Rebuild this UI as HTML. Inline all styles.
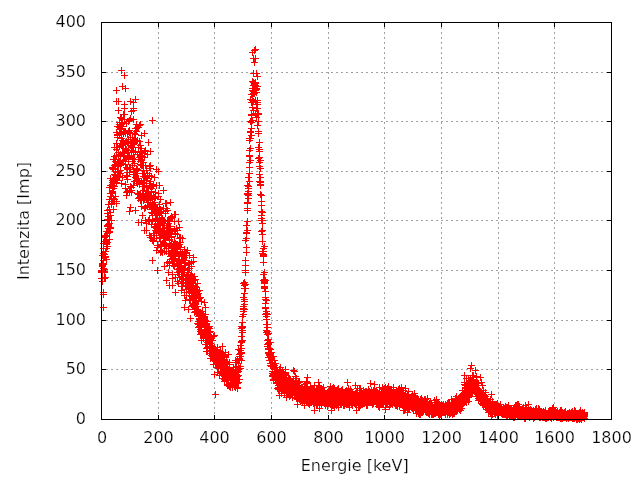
<!DOCTYPE html>
<html lang="cs"><head><meta charset="utf-8"><title>Intenzita / Energie</title>
<style>html,body{margin:0;padding:0;background:#fff;}body{width:640px;height:480px;overflow:hidden;}svg{display:block;opacity:0.999;will-change:transform;}text{font-family:"DejaVu Sans", "Liberation Sans", sans-serif;font-size:16px;fill:#000;stroke:#fff;stroke-width:0.22px;}</style></head><body>
<svg width="640" height="480" viewBox="0 0 640 480">
<rect width="640" height="480" fill="#fff"/>
<path d="M158.5 22V419M214.5 22V419M271.5 22V419M328.5 22V419M384.5 22V419M441.5 22V419M498.5 22V419M554.5 22V419" stroke="#a0a0a0" stroke-width="1" stroke-dasharray="2 3" stroke-dashoffset="0" fill="none" shape-rendering="crispEdges"/>
<path d="M101 369.5H611M101 320.5H611M101 270.5H611M101 220.5H611M101 171.5H611M101 121.5H611M101 72.5H611" stroke="#a0a0a0" stroke-width="1" stroke-dasharray="2 3" fill="none" shape-rendering="crispEdges"/>
<path d="M158.5 419v-4M158.5 23v4M214.5 419v-4M214.5 23v4M271.5 419v-4M271.5 23v4M328.5 419v-4M328.5 23v4M384.5 419v-4M384.5 23v4M441.5 419v-4M441.5 23v4M498.5 419v-4M498.5 23v4M554.5 419v-4M554.5 23v4M102 369.5h4M611 369.5h-4M102 320.5h4M611 320.5h-4M102 270.5h4M611 270.5h-4M102 220.5h4M611 220.5h-4M102 171.5h4M611 171.5h-4M102 121.5h4M611 121.5h-4M102 72.5h4M611 72.5h-4" stroke="#000" stroke-width="1" fill="none" shape-rendering="crispEdges"/>
<path d="M98 270.5h7M101.5 267v7M98 272.5h7M101.5 269v7M98 271.5h7M101.5 268v7M98 278.5h7M101.5 275v7M99 272.5h7M102.5 269v7M99 281.5h7M102.5 278v7M99 264.5h7M102.5 261v7M99 255.5h7M102.5 252v7M99 278.5h7M102.5 275v7M99 263.5h7M102.5 260v7M99 266.5h7M102.5 263v7M99 265.5h7M102.5 262v7M100 264.5h7M103.5 261v7M100 292.5h7M103.5 289v7M100 268.5h7M103.5 265v7M100 243.5h7M103.5 240v7M100 253.5h7M103.5 250v7M100 248.5h7M103.5 245v7M100 263.5h7M103.5 260v7M100 260.5h7M103.5 257v7M101 257.5h7M104.5 254v7M101 278.5h7M104.5 275v7M101 272.5h7M104.5 269v7M101 269.5h7M104.5 266v7M101 254.5h7M104.5 251v7M101 254.5h7M104.5 251v7M101 271.5h7M104.5 268v7M101 256.5h7M104.5 253v7M101 237.5h7M104.5 234v7M102 256.5h7M105.5 253v7M102 277.5h7M105.5 274v7M102 251.5h7M105.5 248v7M102 241.5h7M105.5 238v7M102 257.5h7M105.5 254v7M102 235.5h7M105.5 232v7M102 257.5h7M105.5 254v7M102 236.5h7M105.5 233v7M103 240.5h7M106.5 237v7M103 248.5h7M106.5 245v7M103 235.5h7M106.5 232v7M103 244.5h7M106.5 241v7M103 242.5h7M106.5 239v7M103 259.5h7M106.5 256v7M103 239.5h7M106.5 236v7M103 231.5h7M106.5 228v7M103 243.5h7M106.5 240v7M104 225.5h7M107.5 222v7M104 242.5h7M107.5 239v7M104 246.5h7M107.5 243v7M104 213.5h7M107.5 210v7M104 219.5h7M107.5 216v7M104 233.5h7M107.5 230v7M104 226.5h7M107.5 223v7M104 210.5h7M107.5 207v7M105 226.5h7M108.5 223v7M105 204.5h7M108.5 201v7M105 226.5h7M108.5 223v7M105 224.5h7M108.5 221v7M105 216.5h7M108.5 213v7M105 225.5h7M108.5 222v7M105 220.5h7M108.5 217v7M105 224.5h7M108.5 221v7M105 228.5h7M108.5 225v7M106 239.5h7M109.5 236v7M106 220.5h7M109.5 217v7M106 223.5h7M109.5 220v7M106 209.5h7M109.5 206v7M106 187.5h7M109.5 184v7M106 231.5h7M109.5 228v7M106 232.5h7M109.5 229v7M106 199.5h7M109.5 196v7M107 228.5h7M110.5 225v7M107 227.5h7M110.5 224v7M107 196.5h7M110.5 193v7M107 196.5h7M110.5 193v7M107 178.5h7M110.5 175v7M107 212.5h7M110.5 209v7M107 193.5h7M110.5 190v7M107 215.5h7M110.5 212v7M107 185.5h7M110.5 182v7M108 220.5h7M111.5 217v7M108 204.5h7M111.5 201v7M108 204.5h7M111.5 201v7M108 201.5h7M111.5 198v7M108 185.5h7M111.5 182v7M108 193.5h7M111.5 190v7M108 199.5h7M111.5 196v7M108 203.5h7M111.5 200v7M109 167.5h7M112.5 164v7M109 192.5h7M112.5 189v7M109 191.5h7M112.5 188v7M109 168.5h7M112.5 165v7M109 180.5h7M112.5 177v7M109 167.5h7M112.5 164v7M109 182.5h7M112.5 179v7M109 191.5h7M112.5 188v7M109 201.5h7M112.5 198v7M110 185.5h7M113.5 182v7M110 201.5h7M113.5 198v7M110 209.5h7M113.5 206v7M110 159.5h7M113.5 156v7M110 188.5h7M113.5 185v7M110 179.5h7M113.5 176v7M110 169.5h7M113.5 166v7M110 198.5h7M113.5 195v7M111 199.5h7M114.5 196v7M111 159.5h7M114.5 156v7M111 181.5h7M114.5 178v7M111 174.5h7M114.5 171v7M111 179.5h7M114.5 176v7M111 156.5h7M114.5 153v7M111 165.5h7M114.5 162v7M111 186.5h7M114.5 183v7M111 147.5h7M114.5 144v7M112 164.5h7M115.5 161v7M112 175.5h7M115.5 172v7M112 161.5h7M115.5 158v7M112 196.5h7M115.5 193v7M112 159.5h7M115.5 156v7M112 177.5h7M115.5 174v7M112 168.5h7M115.5 165v7M112 180.5h7M115.5 177v7M113 149.5h7M116.5 146v7M113 177.5h7M116.5 174v7M113 203.5h7M116.5 200v7M113 155.5h7M116.5 152v7M113 201.5h7M116.5 198v7M113 143.5h7M116.5 140v7M113 182.5h7M116.5 179v7M113 132.5h7M116.5 129v7M113 180.5h7M116.5 177v7M114 135.5h7M117.5 132v7M114 126.5h7M117.5 123v7M114 180.5h7M117.5 177v7M114 134.5h7M117.5 131v7M114 137.5h7M117.5 134v7M114 147.5h7M117.5 144v7M114 166.5h7M117.5 163v7M114 163.5h7M117.5 160v7M115 177.5h7M118.5 174v7M115 163.5h7M118.5 160v7M115 155.5h7M118.5 152v7M115 163.5h7M118.5 160v7M115 171.5h7M118.5 168v7M115 172.5h7M118.5 169v7M115 164.5h7M118.5 161v7M115 110.5h7M118.5 107v7M115 152.5h7M118.5 149v7M116 127.5h7M119.5 124v7M116 134.5h7M119.5 131v7M116 176.5h7M119.5 173v7M116 162.5h7M119.5 159v7M116 161.5h7M119.5 158v7M116 122.5h7M119.5 119v7M116 124.5h7M119.5 121v7M116 146.5h7M119.5 143v7M117 156.5h7M120.5 153v7M117 154.5h7M120.5 151v7M117 117.5h7M120.5 114v7M117 165.5h7M120.5 162v7M117 173.5h7M120.5 170v7M117 125.5h7M120.5 122v7M117 129.5h7M120.5 126v7M117 170.5h7M120.5 167v7M117 129.5h7M120.5 126v7M118 124.5h7M121.5 121v7M118 183.5h7M121.5 180v7M118 138.5h7M121.5 135v7M118 145.5h7M121.5 142v7M118 128.5h7M121.5 125v7M118 133.5h7M121.5 130v7M118 118.5h7M121.5 115v7M118 163.5h7M121.5 160v7M119 153.5h7M122.5 150v7M119 177.5h7M122.5 174v7M119 143.5h7M122.5 140v7M119 126.5h7M122.5 123v7M119 152.5h7M122.5 149v7M119 140.5h7M122.5 137v7M119 122.5h7M122.5 119v7M119 144.5h7M122.5 141v7M120 160.5h7M123.5 157v7M120 161.5h7M123.5 158v7M120 144.5h7M123.5 141v7M120 142.5h7M123.5 139v7M120 132.5h7M123.5 129v7M120 133.5h7M123.5 130v7M120 114.5h7M123.5 111v7M120 152.5h7M123.5 149v7M120 141.5h7M123.5 138v7M121 153.5h7M124.5 150v7M121 108.5h7M124.5 105v7M121 104.5h7M124.5 101v7M121 155.5h7M124.5 152v7M121 131.5h7M124.5 128v7M121 114.5h7M124.5 111v7M121 153.5h7M124.5 150v7M121 119.5h7M124.5 116v7M122 188.5h7M125.5 185v7M122 131.5h7M125.5 128v7M122 184.5h7M125.5 181v7M122 148.5h7M125.5 145v7M122 164.5h7M125.5 161v7M122 133.5h7M125.5 130v7M122 88.5h7M125.5 85v7M122 142.5h7M125.5 139v7M122 159.5h7M125.5 156v7M123 175.5h7M126.5 172v7M123 123.5h7M126.5 120v7M123 192.5h7M126.5 189v7M123 141.5h7M126.5 138v7M123 167.5h7M126.5 164v7M123 195.5h7M126.5 192v7M123 192.5h7M126.5 189v7M123 149.5h7M126.5 146v7M124 152.5h7M127.5 149v7M124 172.5h7M127.5 169v7M124 133.5h7M127.5 130v7M124 142.5h7M127.5 139v7M124 179.5h7M127.5 176v7M124 169.5h7M127.5 166v7M124 176.5h7M127.5 173v7M124 191.5h7M127.5 188v7M124 168.5h7M127.5 165v7M125 131.5h7M128.5 128v7M125 139.5h7M128.5 136v7M125 161.5h7M128.5 158v7M125 121.5h7M128.5 118v7M125 150.5h7M128.5 147v7M125 158.5h7M128.5 155v7M125 143.5h7M128.5 140v7M125 157.5h7M128.5 154v7M126 155.5h7M129.5 152v7M126 156.5h7M129.5 153v7M126 120.5h7M129.5 117v7M126 211.5h7M129.5 208v7M126 130.5h7M129.5 127v7M126 172.5h7M129.5 169v7M126 132.5h7M129.5 129v7M126 191.5h7M129.5 188v7M126 167.5h7M129.5 164v7M127 145.5h7M130.5 142v7M127 169.5h7M130.5 166v7M127 169.5h7M130.5 166v7M127 186.5h7M130.5 183v7M127 118.5h7M130.5 115v7M127 137.5h7M130.5 134v7M127 207.5h7M130.5 204v7M127 167.5h7M130.5 164v7M128 190.5h7M131.5 187v7M128 187.5h7M131.5 184v7M128 150.5h7M131.5 147v7M128 142.5h7M131.5 139v7M128 155.5h7M131.5 152v7M128 192.5h7M131.5 189v7M128 147.5h7M131.5 144v7M128 111.5h7M131.5 108v7M128 146.5h7M131.5 143v7M129 161.5h7M132.5 158v7M129 158.5h7M132.5 155v7M129 142.5h7M132.5 139v7M129 147.5h7M132.5 144v7M129 159.5h7M132.5 156v7M129 137.5h7M132.5 134v7M129 165.5h7M132.5 162v7M129 139.5h7M132.5 136v7M130 141.5h7M133.5 138v7M130 119.5h7M133.5 116v7M130 185.5h7M133.5 182v7M130 174.5h7M133.5 171v7M130 151.5h7M133.5 148v7M130 152.5h7M133.5 149v7M130 108.5h7M133.5 105v7M130 110.5h7M133.5 107v7M130 159.5h7M133.5 156v7M131 174.5h7M134.5 171v7M131 139.5h7M134.5 136v7M131 181.5h7M134.5 178v7M131 171.5h7M134.5 168v7M131 163.5h7M134.5 160v7M131 143.5h7M134.5 140v7M131 159.5h7M134.5 156v7M131 133.5h7M134.5 130v7M132 134.5h7M135.5 131v7M132 141.5h7M135.5 138v7M132 151.5h7M135.5 148v7M132 151.5h7M135.5 148v7M132 128.5h7M135.5 125v7M132 171.5h7M135.5 168v7M132 177.5h7M135.5 174v7M132 210.5h7M135.5 207v7M132 99.5h7M135.5 96v7M133 131.5h7M136.5 128v7M133 180.5h7M136.5 177v7M133 141.5h7M136.5 138v7M133 124.5h7M136.5 121v7M133 170.5h7M136.5 167v7M133 173.5h7M136.5 170v7M133 178.5h7M136.5 175v7M133 168.5h7M136.5 165v7M134 140.5h7M137.5 137v7M134 173.5h7M137.5 170v7M134 140.5h7M137.5 137v7M134 183.5h7M137.5 180v7M134 154.5h7M137.5 151v7M134 127.5h7M137.5 124v7M134 169.5h7M137.5 166v7M134 193.5h7M137.5 190v7M134 180.5h7M137.5 177v7M135 198.5h7M138.5 195v7M135 159.5h7M138.5 156v7M135 159.5h7M138.5 156v7M135 194.5h7M138.5 191v7M135 147.5h7M138.5 144v7M135 178.5h7M138.5 175v7M135 127.5h7M138.5 124v7M135 222.5h7M138.5 219v7M136 194.5h7M139.5 191v7M136 182.5h7M139.5 179v7M136 141.5h7M139.5 138v7M136 184.5h7M139.5 181v7M136 157.5h7M139.5 154v7M136 125.5h7M139.5 122v7M136 184.5h7M139.5 181v7M136 197.5h7M139.5 194v7M136 154.5h7M139.5 151v7M137 145.5h7M140.5 142v7M137 195.5h7M140.5 192v7M137 161.5h7M140.5 158v7M137 124.5h7M140.5 121v7M137 194.5h7M140.5 191v7M137 152.5h7M140.5 149v7M137 200.5h7M140.5 197v7M137 164.5h7M140.5 161v7M138 206.5h7M141.5 203v7M138 222.5h7M141.5 219v7M138 165.5h7M141.5 162v7M138 181.5h7M141.5 178v7M138 160.5h7M141.5 157v7M138 135.5h7M141.5 132v7M138 200.5h7M141.5 197v7M138 155.5h7M141.5 152v7M138 148.5h7M141.5 145v7M139 173.5h7M142.5 170v7M139 186.5h7M142.5 183v7M139 194.5h7M142.5 191v7M139 165.5h7M142.5 162v7M139 193.5h7M142.5 190v7M139 156.5h7M142.5 153v7M139 215.5h7M142.5 212v7M139 196.5h7M142.5 193v7M140 162.5h7M143.5 159v7M140 183.5h7M143.5 180v7M140 190.5h7M143.5 187v7M140 200.5h7M143.5 197v7M140 176.5h7M143.5 173v7M140 182.5h7M143.5 179v7M140 170.5h7M143.5 167v7M140 165.5h7M143.5 162v7M141 173.5h7M144.5 170v7M141 199.5h7M144.5 196v7M141 153.5h7M144.5 150v7M141 151.5h7M144.5 148v7M141 157.5h7M144.5 154v7M141 230.5h7M144.5 227v7M141 180.5h7M144.5 177v7M141 208.5h7M144.5 205v7M141 186.5h7M144.5 183v7M142 193.5h7M145.5 190v7M142 150.5h7M145.5 147v7M142 207.5h7M145.5 204v7M142 197.5h7M145.5 194v7M142 220.5h7M145.5 217v7M142 177.5h7M145.5 174v7M142 165.5h7M145.5 162v7M142 165.5h7M145.5 162v7M143 195.5h7M146.5 192v7M143 199.5h7M146.5 196v7M143 187.5h7M146.5 184v7M143 180.5h7M146.5 177v7M143 170.5h7M146.5 167v7M143 223.5h7M146.5 220v7M143 185.5h7M146.5 182v7M143 230.5h7M146.5 227v7M143 170.5h7M146.5 167v7M144 200.5h7M147.5 197v7M144 178.5h7M147.5 175v7M144 191.5h7M147.5 188v7M144 154.5h7M147.5 151v7M144 173.5h7M147.5 170v7M144 206.5h7M147.5 203v7M144 193.5h7M147.5 190v7M144 205.5h7M147.5 202v7M145 196.5h7M148.5 193v7M145 196.5h7M148.5 193v7M145 194.5h7M148.5 191v7M145 192.5h7M148.5 189v7M145 202.5h7M148.5 199v7M145 220.5h7M148.5 217v7M145 192.5h7M148.5 189v7M145 194.5h7M148.5 191v7M145 197.5h7M148.5 194v7M146 235.5h7M149.5 232v7M146 195.5h7M149.5 192v7M146 183.5h7M149.5 180v7M146 221.5h7M149.5 218v7M146 205.5h7M149.5 202v7M146 166.5h7M149.5 163v7M146 175.5h7M149.5 172v7M146 219.5h7M149.5 216v7M147 181.5h7M150.5 178v7M147 186.5h7M150.5 183v7M147 165.5h7M150.5 162v7M147 186.5h7M150.5 183v7M147 205.5h7M150.5 202v7M147 199.5h7M150.5 196v7M147 151.5h7M150.5 148v7M147 237.5h7M150.5 234v7M147 168.5h7M150.5 165v7M148 191.5h7M151.5 188v7M148 209.5h7M151.5 206v7M148 237.5h7M151.5 234v7M148 212.5h7M151.5 209v7M148 176.5h7M151.5 173v7M148 224.5h7M151.5 221v7M148 188.5h7M151.5 185v7M148 197.5h7M151.5 194v7M149 240.5h7M152.5 237v7M149 213.5h7M152.5 210v7M149 215.5h7M152.5 212v7M149 186.5h7M152.5 183v7M149 221.5h7M152.5 218v7M149 206.5h7M152.5 203v7M149 219.5h7M152.5 216v7M149 220.5h7M152.5 217v7M149 203.5h7M152.5 200v7M150 196.5h7M153.5 193v7M150 185.5h7M153.5 182v7M150 233.5h7M153.5 230v7M150 238.5h7M153.5 235v7M150 209.5h7M153.5 206v7M150 204.5h7M153.5 201v7M150 184.5h7M153.5 181v7M150 241.5h7M153.5 238v7M151 212.5h7M154.5 209v7M151 235.5h7M154.5 232v7M151 197.5h7M154.5 194v7M151 202.5h7M154.5 199v7M151 226.5h7M154.5 223v7M151 238.5h7M154.5 235v7M151 198.5h7M154.5 195v7M151 177.5h7M154.5 174v7M151 205.5h7M154.5 202v7M152 192.5h7M155.5 189v7M152 197.5h7M155.5 194v7M152 218.5h7M155.5 215v7M152 224.5h7M155.5 221v7M152 230.5h7M155.5 227v7M152 211.5h7M155.5 208v7M152 230.5h7M155.5 227v7M152 227.5h7M155.5 224v7M153 231.5h7M156.5 228v7M153 215.5h7M156.5 212v7M153 208.5h7M156.5 205v7M153 169.5h7M156.5 166v7M153 228.5h7M156.5 225v7M153 238.5h7M156.5 235v7M153 215.5h7M156.5 212v7M153 250.5h7M156.5 247v7M153 185.5h7M156.5 182v7M154 245.5h7M157.5 242v7M154 207.5h7M157.5 204v7M154 213.5h7M157.5 210v7M154 219.5h7M157.5 216v7M154 220.5h7M157.5 217v7M154 215.5h7M157.5 212v7M154 230.5h7M157.5 227v7M154 247.5h7M157.5 244v7M155 193.5h7M158.5 190v7M155 211.5h7M158.5 208v7M155 196.5h7M158.5 193v7M155 225.5h7M158.5 222v7M155 229.5h7M158.5 226v7M155 221.5h7M158.5 218v7M155 171.5h7M158.5 168v7M155 231.5h7M158.5 228v7M155 224.5h7M158.5 221v7M156 223.5h7M159.5 220v7M156 225.5h7M159.5 222v7M156 215.5h7M159.5 212v7M156 185.5h7M159.5 182v7M156 235.5h7M159.5 232v7M156 237.5h7M159.5 234v7M156 204.5h7M159.5 201v7M156 207.5h7M159.5 204v7M157 230.5h7M160.5 227v7M157 199.5h7M160.5 196v7M157 220.5h7M160.5 217v7M157 209.5h7M160.5 206v7M157 252.5h7M160.5 249v7M157 224.5h7M160.5 221v7M157 246.5h7M160.5 243v7M157 241.5h7M160.5 238v7M157 212.5h7M160.5 209v7M158 211.5h7M161.5 208v7M158 218.5h7M161.5 215v7M158 244.5h7M161.5 241v7M158 250.5h7M161.5 247v7M158 234.5h7M161.5 231v7M158 221.5h7M161.5 218v7M158 222.5h7M161.5 219v7M158 251.5h7M161.5 248v7M159 230.5h7M162.5 227v7M159 228.5h7M162.5 225v7M159 222.5h7M162.5 219v7M159 219.5h7M162.5 216v7M159 219.5h7M162.5 216v7M159 252.5h7M162.5 249v7M159 221.5h7M162.5 218v7M159 220.5h7M162.5 217v7M160 236.5h7M163.5 233v7M160 234.5h7M163.5 231v7M160 208.5h7M163.5 205v7M160 225.5h7M163.5 222v7M160 190.5h7M163.5 187v7M160 220.5h7M163.5 217v7M160 208.5h7M163.5 205v7M160 242.5h7M163.5 239v7M160 231.5h7M163.5 228v7M161 220.5h7M164.5 217v7M161 220.5h7M164.5 217v7M161 251.5h7M164.5 248v7M161 232.5h7M164.5 229v7M161 245.5h7M164.5 242v7M161 266.5h7M164.5 263v7M161 223.5h7M164.5 220v7M161 238.5h7M164.5 235v7M162 236.5h7M165.5 233v7M162 243.5h7M165.5 240v7M162 245.5h7M165.5 242v7M162 213.5h7M165.5 210v7M162 211.5h7M165.5 208v7M162 213.5h7M165.5 210v7M162 240.5h7M165.5 237v7M162 203.5h7M165.5 200v7M162 238.5h7M165.5 235v7M163 228.5h7M166.5 225v7M163 232.5h7M166.5 229v7M163 234.5h7M166.5 231v7M163 248.5h7M166.5 245v7M163 203.5h7M166.5 200v7M163 227.5h7M166.5 224v7M163 208.5h7M166.5 205v7M163 251.5h7M166.5 248v7M164 235.5h7M167.5 232v7M164 262.5h7M167.5 259v7M164 233.5h7M167.5 230v7M164 228.5h7M167.5 225v7M164 220.5h7M167.5 217v7M164 210.5h7M167.5 207v7M164 225.5h7M167.5 222v7M164 230.5h7M167.5 227v7M164 228.5h7M167.5 225v7M165 221.5h7M168.5 218v7M165 220.5h7M168.5 217v7M165 272.5h7M168.5 269v7M165 220.5h7M168.5 217v7M165 228.5h7M168.5 225v7M165 246.5h7M168.5 243v7M165 223.5h7M168.5 220v7M165 253.5h7M168.5 250v7M166 240.5h7M169.5 237v7M166 226.5h7M169.5 223v7M166 265.5h7M169.5 262v7M166 220.5h7M169.5 217v7M166 244.5h7M169.5 241v7M166 263.5h7M169.5 260v7M166 261.5h7M169.5 258v7M166 239.5h7M169.5 236v7M166 253.5h7M169.5 250v7M167 253.5h7M170.5 250v7M167 226.5h7M170.5 223v7M167 218.5h7M170.5 215v7M167 230.5h7M170.5 227v7M167 245.5h7M170.5 242v7M167 256.5h7M170.5 253v7M167 256.5h7M170.5 253v7M167 202.5h7M170.5 199v7M168 245.5h7M171.5 242v7M168 259.5h7M171.5 256v7M168 234.5h7M171.5 231v7M168 250.5h7M171.5 247v7M168 236.5h7M171.5 233v7M168 244.5h7M171.5 241v7M168 231.5h7M171.5 228v7M168 216.5h7M171.5 213v7M168 237.5h7M171.5 234v7M169 259.5h7M172.5 256v7M169 251.5h7M172.5 248v7M169 274.5h7M172.5 271v7M169 285.5h7M172.5 282v7M169 217.5h7M172.5 214v7M169 261.5h7M172.5 258v7M169 231.5h7M172.5 228v7M169 278.5h7M172.5 275v7M170 251.5h7M173.5 248v7M170 265.5h7M173.5 262v7M170 251.5h7M173.5 248v7M170 254.5h7M173.5 251v7M170 261.5h7M173.5 258v7M170 244.5h7M173.5 241v7M170 247.5h7M173.5 244v7M170 254.5h7M173.5 251v7M170 253.5h7M173.5 250v7M171 229.5h7M174.5 226v7M171 266.5h7M174.5 263v7M171 259.5h7M174.5 256v7M171 221.5h7M174.5 218v7M171 241.5h7M174.5 238v7M171 249.5h7M174.5 246v7M171 214.5h7M174.5 211v7M171 255.5h7M174.5 252v7M172 249.5h7M175.5 246v7M172 214.5h7M175.5 211v7M172 246.5h7M175.5 243v7M172 277.5h7M175.5 274v7M172 256.5h7M175.5 253v7M172 233.5h7M175.5 230v7M172 252.5h7M175.5 249v7M172 243.5h7M175.5 240v7M172 253.5h7M175.5 250v7M173 247.5h7M176.5 244v7M173 253.5h7M176.5 250v7M173 228.5h7M176.5 225v7M173 251.5h7M176.5 248v7M173 248.5h7M176.5 245v7M173 261.5h7M176.5 258v7M173 245.5h7M176.5 242v7M173 245.5h7M176.5 242v7M174 281.5h7M177.5 278v7M174 247.5h7M177.5 244v7M174 234.5h7M177.5 231v7M174 253.5h7M177.5 250v7M174 272.5h7M177.5 269v7M174 261.5h7M177.5 258v7M174 263.5h7M177.5 260v7M174 264.5h7M177.5 261v7M174 230.5h7M177.5 227v7M175 245.5h7M178.5 242v7M175 274.5h7M178.5 271v7M175 221.5h7M178.5 218v7M175 246.5h7M178.5 243v7M175 260.5h7M178.5 257v7M175 269.5h7M178.5 266v7M175 283.5h7M178.5 280v7M175 254.5h7M178.5 251v7M176 238.5h7M179.5 235v7M176 263.5h7M179.5 260v7M176 256.5h7M179.5 253v7M176 268.5h7M179.5 265v7M176 261.5h7M179.5 258v7M176 277.5h7M179.5 274v7M176 271.5h7M179.5 268v7M176 227.5h7M179.5 224v7M176 244.5h7M179.5 241v7M177 237.5h7M180.5 234v7M177 242.5h7M180.5 239v7M177 249.5h7M180.5 246v7M177 253.5h7M180.5 250v7M177 247.5h7M180.5 244v7M177 265.5h7M180.5 262v7M177 267.5h7M180.5 264v7M177 252.5h7M180.5 249v7M178 270.5h7M181.5 267v7M178 260.5h7M181.5 257v7M178 290.5h7M181.5 287v7M178 276.5h7M181.5 273v7M178 263.5h7M181.5 260v7M178 263.5h7M181.5 260v7M178 283.5h7M181.5 280v7M178 262.5h7M181.5 259v7M179 279.5h7M182.5 276v7M179 253.5h7M182.5 250v7M179 286.5h7M182.5 283v7M179 256.5h7M182.5 253v7M179 268.5h7M182.5 265v7M179 238.5h7M182.5 235v7M179 278.5h7M182.5 275v7M179 268.5h7M182.5 265v7M179 270.5h7M182.5 267v7M180 259.5h7M183.5 256v7M180 282.5h7M183.5 279v7M180 278.5h7M183.5 275v7M180 274.5h7M183.5 271v7M180 272.5h7M183.5 269v7M180 255.5h7M183.5 252v7M180 259.5h7M183.5 256v7M180 268.5h7M183.5 265v7M181 251.5h7M184.5 248v7M181 257.5h7M184.5 254v7M181 295.5h7M184.5 292v7M181 262.5h7M184.5 259v7M181 272.5h7M184.5 269v7M181 249.5h7M184.5 246v7M181 269.5h7M184.5 266v7M181 292.5h7M184.5 289v7M181 251.5h7M184.5 248v7M182 252.5h7M185.5 249v7M182 280.5h7M185.5 277v7M182 255.5h7M185.5 252v7M182 300.5h7M185.5 297v7M182 253.5h7M185.5 250v7M182 278.5h7M185.5 275v7M182 265.5h7M185.5 262v7M182 260.5h7M185.5 257v7M183 278.5h7M186.5 275v7M183 283.5h7M186.5 280v7M183 275.5h7M186.5 272v7M183 289.5h7M186.5 286v7M183 295.5h7M186.5 292v7M183 292.5h7M186.5 289v7M183 279.5h7M186.5 276v7M183 286.5h7M186.5 283v7M183 255.5h7M186.5 252v7M184 278.5h7M187.5 275v7M184 250.5h7M187.5 247v7M184 250.5h7M187.5 247v7M184 270.5h7M187.5 267v7M184 285.5h7M187.5 282v7M184 286.5h7M187.5 283v7M184 282.5h7M187.5 279v7M184 272.5h7M187.5 269v7M185 272.5h7M188.5 269v7M185 288.5h7M188.5 285v7M185 309.5h7M188.5 306v7M185 284.5h7M188.5 281v7M185 279.5h7M188.5 276v7M185 281.5h7M188.5 278v7M185 281.5h7M188.5 278v7M185 264.5h7M188.5 261v7M185 287.5h7M188.5 284v7M186 268.5h7M189.5 265v7M186 299.5h7M189.5 296v7M186 283.5h7M189.5 280v7M186 277.5h7M189.5 274v7M186 255.5h7M189.5 252v7M186 263.5h7M189.5 260v7M186 281.5h7M189.5 278v7M186 291.5h7M189.5 288v7M187 275.5h7M190.5 272v7M187 278.5h7M190.5 275v7M187 285.5h7M190.5 282v7M187 282.5h7M190.5 279v7M187 277.5h7M190.5 274v7M187 287.5h7M190.5 284v7M187 299.5h7M190.5 296v7M187 318.5h7M190.5 315v7M187 300.5h7M190.5 297v7M188 262.5h7M191.5 259v7M188 283.5h7M191.5 280v7M188 277.5h7M191.5 274v7M188 286.5h7M191.5 283v7M188 274.5h7M191.5 271v7M188 293.5h7M191.5 290v7M188 296.5h7M191.5 293v7M188 266.5h7M191.5 263v7M189 276.5h7M192.5 273v7M189 286.5h7M192.5 283v7M189 291.5h7M192.5 288v7M189 305.5h7M192.5 302v7M189 282.5h7M192.5 279v7M189 303.5h7M192.5 300v7M189 292.5h7M192.5 289v7M189 306.5h7M192.5 303v7M189 300.5h7M192.5 297v7M190 306.5h7M193.5 303v7M190 283.5h7M193.5 280v7M190 261.5h7M193.5 258v7M190 257.5h7M193.5 254v7M190 304.5h7M193.5 301v7M190 295.5h7M193.5 292v7M190 285.5h7M193.5 282v7M190 297.5h7M193.5 294v7M191 300.5h7M194.5 297v7M191 307.5h7M194.5 304v7M191 305.5h7M194.5 302v7M191 296.5h7M194.5 293v7M191 312.5h7M194.5 309v7M191 289.5h7M194.5 286v7M191 279.5h7M194.5 276v7M191 276.5h7M194.5 273v7M191 280.5h7M194.5 277v7M192 292.5h7M195.5 289v7M192 286.5h7M195.5 283v7M192 293.5h7M195.5 290v7M192 303.5h7M195.5 300v7M192 296.5h7M195.5 293v7M192 279.5h7M195.5 276v7M192 311.5h7M195.5 308v7M192 302.5h7M195.5 299v7M193 287.5h7M196.5 284v7M193 295.5h7M196.5 292v7M193 296.5h7M196.5 293v7M193 309.5h7M196.5 306v7M193 292.5h7M196.5 289v7M193 309.5h7M196.5 306v7M193 289.5h7M196.5 286v7M193 289.5h7M196.5 286v7M193 290.5h7M196.5 287v7M194 283.5h7M197.5 280v7M194 323.5h7M197.5 320v7M194 295.5h7M197.5 292v7M194 306.5h7M197.5 303v7M194 310.5h7M197.5 307v7M194 310.5h7M197.5 307v7M194 283.5h7M197.5 280v7M194 291.5h7M197.5 288v7M195 310.5h7M198.5 307v7M195 321.5h7M198.5 318v7M195 327.5h7M198.5 324v7M195 314.5h7M198.5 311v7M195 293.5h7M198.5 290v7M195 324.5h7M198.5 321v7M195 312.5h7M198.5 309v7M195 316.5h7M198.5 313v7M195 301.5h7M198.5 298v7M196 318.5h7M199.5 315v7M196 315.5h7M199.5 312v7M196 290.5h7M199.5 287v7M196 298.5h7M199.5 295v7M196 313.5h7M199.5 310v7M196 319.5h7M199.5 316v7M196 297.5h7M199.5 294v7M196 326.5h7M199.5 323v7M197 297.5h7M200.5 294v7M197 329.5h7M200.5 326v7M197 319.5h7M200.5 316v7M197 334.5h7M200.5 331v7M197 322.5h7M200.5 319v7M197 331.5h7M200.5 328v7M197 316.5h7M200.5 313v7M197 312.5h7M200.5 309v7M198 313.5h7M201.5 310v7M198 330.5h7M201.5 327v7M198 319.5h7M201.5 316v7M198 332.5h7M201.5 329v7M198 301.5h7M201.5 298v7M198 332.5h7M201.5 329v7M198 340.5h7M201.5 337v7M198 321.5h7M201.5 318v7M198 333.5h7M201.5 330v7M199 314.5h7M202.5 311v7M199 318.5h7M202.5 315v7M199 333.5h7M202.5 330v7M199 311.5h7M202.5 308v7M199 324.5h7M202.5 321v7M199 321.5h7M202.5 318v7M199 315.5h7M202.5 312v7M199 333.5h7M202.5 330v7M200 338.5h7M203.5 335v7M200 314.5h7M203.5 311v7M200 333.5h7M203.5 330v7M200 321.5h7M203.5 318v7M200 322.5h7M203.5 319v7M200 323.5h7M203.5 320v7M200 322.5h7M203.5 319v7M200 324.5h7M203.5 321v7M200 337.5h7M203.5 334v7M201 326.5h7M204.5 323v7M201 316.5h7M204.5 313v7M201 302.5h7M204.5 299v7M201 317.5h7M204.5 314v7M201 334.5h7M204.5 331v7M201 325.5h7M204.5 322v7M201 330.5h7M204.5 327v7M201 332.5h7M204.5 329v7M202 323.5h7M205.5 320v7M202 307.5h7M205.5 304v7M202 332.5h7M205.5 329v7M202 314.5h7M205.5 311v7M202 331.5h7M205.5 328v7M202 320.5h7M205.5 317v7M202 344.5h7M205.5 341v7M202 344.5h7M205.5 341v7M202 337.5h7M205.5 334v7M203 337.5h7M206.5 334v7M203 340.5h7M206.5 337v7M203 327.5h7M206.5 324v7M203 329.5h7M206.5 326v7M203 348.5h7M206.5 345v7M203 321.5h7M206.5 318v7M203 344.5h7M206.5 341v7M203 351.5h7M206.5 348v7M204 340.5h7M207.5 337v7M204 351.5h7M207.5 348v7M204 329.5h7M207.5 326v7M204 335.5h7M207.5 332v7M204 342.5h7M207.5 339v7M204 335.5h7M207.5 332v7M204 347.5h7M207.5 344v7M204 321.5h7M207.5 318v7M204 329.5h7M207.5 326v7M205 326.5h7M208.5 323v7M205 334.5h7M208.5 331v7M205 327.5h7M208.5 324v7M205 328.5h7M208.5 325v7M205 332.5h7M208.5 329v7M205 335.5h7M208.5 332v7M205 332.5h7M208.5 329v7M205 340.5h7M208.5 337v7M206 350.5h7M209.5 347v7M206 326.5h7M209.5 323v7M206 332.5h7M209.5 329v7M206 335.5h7M209.5 332v7M206 339.5h7M209.5 336v7M206 344.5h7M209.5 341v7M206 339.5h7M209.5 336v7M206 328.5h7M209.5 325v7M206 353.5h7M209.5 350v7M207 351.5h7M210.5 348v7M207 343.5h7M210.5 340v7M207 337.5h7M210.5 334v7M207 340.5h7M210.5 337v7M207 358.5h7M210.5 355v7M207 350.5h7M210.5 347v7M207 331.5h7M210.5 328v7M207 335.5h7M210.5 332v7M208 350.5h7M211.5 347v7M208 353.5h7M211.5 350v7M208 347.5h7M211.5 344v7M208 346.5h7M211.5 343v7M208 340.5h7M211.5 337v7M208 348.5h7M211.5 345v7M208 348.5h7M211.5 345v7M208 355.5h7M211.5 352v7M208 346.5h7M211.5 343v7M209 340.5h7M212.5 337v7M209 347.5h7M212.5 344v7M209 347.5h7M212.5 344v7M209 356.5h7M212.5 353v7M209 347.5h7M212.5 344v7M209 346.5h7M212.5 343v7M209 355.5h7M212.5 352v7M209 353.5h7M212.5 350v7M210 356.5h7M213.5 353v7M210 360.5h7M213.5 357v7M210 351.5h7M213.5 348v7M210 336.5h7M213.5 333v7M210 352.5h7M213.5 349v7M210 364.5h7M213.5 361v7M210 349.5h7M213.5 346v7M210 348.5h7M213.5 345v7M210 359.5h7M213.5 356v7M211 349.5h7M214.5 346v7M211 359.5h7M214.5 356v7M211 347.5h7M214.5 344v7M211 357.5h7M214.5 354v7M211 374.5h7M214.5 371v7M211 354.5h7M214.5 351v7M211 353.5h7M214.5 350v7M211 335.5h7M214.5 332v7M212 361.5h7M215.5 358v7M212 355.5h7M215.5 352v7M212 359.5h7M215.5 356v7M212 358.5h7M215.5 355v7M212 351.5h7M215.5 348v7M212 356.5h7M215.5 353v7M212 358.5h7M215.5 355v7M212 349.5h7M215.5 346v7M212 353.5h7M215.5 350v7M213 356.5h7M216.5 353v7M213 357.5h7M216.5 354v7M213 359.5h7M216.5 356v7M213 351.5h7M216.5 348v7M213 353.5h7M216.5 350v7M213 356.5h7M216.5 353v7M213 353.5h7M216.5 350v7M213 355.5h7M216.5 352v7M214 372.5h7M217.5 369v7M214 347.5h7M217.5 344v7M214 355.5h7M217.5 352v7M214 355.5h7M217.5 352v7M214 352.5h7M217.5 349v7M214 363.5h7M217.5 360v7M214 367.5h7M217.5 364v7M214 367.5h7M217.5 364v7M214 360.5h7M217.5 357v7M215 359.5h7M218.5 356v7M215 368.5h7M218.5 365v7M215 366.5h7M218.5 363v7M215 353.5h7M218.5 350v7M215 353.5h7M218.5 350v7M215 360.5h7M218.5 357v7M215 364.5h7M218.5 361v7M215 365.5h7M218.5 362v7M216 357.5h7M219.5 354v7M216 375.5h7M219.5 372v7M216 365.5h7M219.5 362v7M216 357.5h7M219.5 354v7M216 357.5h7M219.5 354v7M216 352.5h7M219.5 349v7M216 365.5h7M219.5 362v7M216 362.5h7M219.5 359v7M216 362.5h7M219.5 359v7M217 359.5h7M220.5 356v7M217 351.5h7M220.5 348v7M217 351.5h7M220.5 348v7M217 367.5h7M220.5 364v7M217 361.5h7M220.5 358v7M217 351.5h7M220.5 348v7M217 358.5h7M220.5 355v7M217 371.5h7M220.5 368v7M218 364.5h7M221.5 361v7M218 368.5h7M221.5 365v7M218 356.5h7M221.5 353v7M218 364.5h7M221.5 361v7M218 353.5h7M221.5 350v7M218 360.5h7M221.5 357v7M218 366.5h7M221.5 363v7M218 373.5h7M221.5 370v7M219 378.5h7M222.5 375v7M219 363.5h7M222.5 360v7M219 365.5h7M222.5 362v7M219 372.5h7M222.5 369v7M219 346.5h7M222.5 343v7M219 363.5h7M222.5 360v7M219 363.5h7M222.5 360v7M219 362.5h7M222.5 359v7M219 353.5h7M222.5 350v7M220 371.5h7M223.5 368v7M220 365.5h7M223.5 362v7M220 371.5h7M223.5 368v7M220 373.5h7M223.5 370v7M220 359.5h7M223.5 356v7M220 375.5h7M223.5 372v7M220 359.5h7M223.5 356v7M220 355.5h7M223.5 352v7M221 357.5h7M224.5 354v7M221 355.5h7M224.5 352v7M221 381.5h7M224.5 378v7M221 378.5h7M224.5 375v7M221 372.5h7M224.5 369v7M221 375.5h7M224.5 372v7M221 356.5h7M224.5 353v7M221 366.5h7M224.5 363v7M221 379.5h7M224.5 376v7M222 372.5h7M225.5 369v7M222 352.5h7M225.5 349v7M222 377.5h7M225.5 374v7M222 372.5h7M225.5 369v7M222 369.5h7M225.5 366v7M222 373.5h7M225.5 370v7M222 373.5h7M225.5 370v7M222 363.5h7M225.5 360v7M223 369.5h7M226.5 366v7M223 368.5h7M226.5 365v7M223 366.5h7M226.5 363v7M223 361.5h7M226.5 358v7M223 364.5h7M226.5 361v7M223 369.5h7M226.5 366v7M223 371.5h7M226.5 368v7M223 380.5h7M226.5 377v7M223 361.5h7M226.5 358v7M224 374.5h7M227.5 371v7M224 375.5h7M227.5 372v7M224 373.5h7M227.5 370v7M224 362.5h7M227.5 359v7M224 368.5h7M227.5 365v7M224 364.5h7M227.5 361v7M224 385.5h7M227.5 382v7M224 364.5h7M227.5 361v7M225 354.5h7M228.5 351v7M225 373.5h7M228.5 370v7M225 379.5h7M228.5 376v7M225 376.5h7M228.5 373v7M225 369.5h7M228.5 366v7M225 385.5h7M228.5 382v7M225 369.5h7M228.5 366v7M225 384.5h7M228.5 381v7M225 376.5h7M228.5 373v7M226 364.5h7M229.5 361v7M226 362.5h7M229.5 359v7M226 375.5h7M229.5 372v7M226 372.5h7M229.5 369v7M226 377.5h7M229.5 374v7M226 369.5h7M229.5 366v7M226 386.5h7M229.5 383v7M226 372.5h7M229.5 369v7M227 379.5h7M230.5 376v7M227 382.5h7M230.5 379v7M227 376.5h7M230.5 373v7M227 372.5h7M230.5 369v7M227 377.5h7M230.5 374v7M227 370.5h7M230.5 367v7M227 375.5h7M230.5 372v7M227 387.5h7M230.5 384v7M227 374.5h7M230.5 371v7M228 380.5h7M231.5 377v7M228 373.5h7M231.5 370v7M228 378.5h7M231.5 375v7M228 373.5h7M231.5 370v7M228 377.5h7M231.5 374v7M228 384.5h7M231.5 381v7M228 371.5h7M231.5 368v7M228 379.5h7M231.5 376v7M229 386.5h7M232.5 383v7M229 383.5h7M232.5 380v7M229 372.5h7M232.5 369v7M229 377.5h7M232.5 374v7M229 387.5h7M232.5 384v7M229 385.5h7M232.5 382v7M229 379.5h7M232.5 376v7M229 373.5h7M232.5 370v7M229 371.5h7M232.5 368v7M230 377.5h7M233.5 374v7M230 380.5h7M233.5 377v7M230 377.5h7M233.5 374v7M230 367.5h7M233.5 364v7M230 380.5h7M233.5 377v7M230 377.5h7M233.5 374v7M230 371.5h7M233.5 368v7M230 384.5h7M233.5 381v7M231 373.5h7M234.5 370v7M231 385.5h7M234.5 382v7M231 372.5h7M234.5 369v7M231 372.5h7M234.5 369v7M231 377.5h7M234.5 374v7M231 373.5h7M234.5 370v7M231 384.5h7M234.5 381v7M231 379.5h7M234.5 376v7M231 386.5h7M234.5 383v7M232 386.5h7M235.5 383v7M232 360.5h7M235.5 357v7M232 385.5h7M235.5 382v7M232 381.5h7M235.5 378v7M232 367.5h7M235.5 364v7M232 378.5h7M235.5 375v7M232 375.5h7M235.5 372v7M232 387.5h7M235.5 384v7M233 375.5h7M236.5 372v7M233 383.5h7M236.5 380v7M233 380.5h7M236.5 377v7M233 378.5h7M236.5 375v7M233 375.5h7M236.5 372v7M233 374.5h7M236.5 371v7M233 362.5h7M236.5 359v7M233 366.5h7M236.5 363v7M233 376.5h7M236.5 373v7M234 383.5h7M237.5 380v7M234 379.5h7M237.5 376v7M234 372.5h7M237.5 369v7M234 388.5h7M237.5 385v7M234 376.5h7M237.5 373v7M234 387.5h7M237.5 384v7M234 370.5h7M237.5 367v7M234 360.5h7M237.5 357v7M235 369.5h7M238.5 366v7M235 375.5h7M238.5 372v7M235 382.5h7M238.5 379v7M235 375.5h7M238.5 372v7M235 371.5h7M238.5 368v7M235 349.5h7M238.5 346v7M235 366.5h7M238.5 363v7M235 371.5h7M238.5 368v7M235 363.5h7M238.5 360v7M236 368.5h7M239.5 365v7M236 379.5h7M239.5 376v7M236 359.5h7M239.5 356v7M236 368.5h7M239.5 365v7M236 358.5h7M239.5 355v7M236 356.5h7M239.5 353v7M236 358.5h7M239.5 355v7M236 354.5h7M239.5 351v7M237 368.5h7M240.5 365v7M237 366.5h7M240.5 363v7M237 356.5h7M240.5 353v7M237 353.5h7M240.5 350v7M237 353.5h7M240.5 350v7M237 345.5h7M240.5 342v7M237 350.5h7M240.5 347v7M237 353.5h7M240.5 350v7M238 336.5h7M241.5 333v7M238 352.5h7M241.5 349v7M238 328.5h7M241.5 325v7M238 360.5h7M241.5 357v7M238 341.5h7M241.5 338v7M238 342.5h7M241.5 339v7M238 353.5h7M241.5 350v7M238 326.5h7M241.5 323v7M238 348.5h7M241.5 345v7M239 330.5h7M242.5 327v7M239 322.5h7M242.5 319v7M239 327.5h7M242.5 324v7M239 327.5h7M242.5 324v7M239 332.5h7M242.5 329v7M239 316.5h7M242.5 313v7M239 340.5h7M242.5 337v7M239 326.5h7M242.5 323v7M240 314.5h7M243.5 311v7M240 306.5h7M243.5 303v7M240 311.5h7M243.5 308v7M240 309.5h7M243.5 306v7M240 308.5h7M243.5 305v7M240 311.5h7M243.5 308v7M240 314.5h7M243.5 311v7M240 283.5h7M243.5 280v7M240 297.5h7M243.5 294v7M241 304.5h7M244.5 301v7M241 299.5h7M244.5 296v7M241 293.5h7M244.5 290v7M241 285.5h7M244.5 282v7M241 301.5h7M244.5 298v7M241 288.5h7M244.5 285v7M241 282.5h7M244.5 279v7M241 309.5h7M244.5 306v7M242 284.5h7M245.5 281v7M242 270.5h7M245.5 267v7M242 288.5h7M245.5 285v7M242 288.5h7M245.5 285v7M242 272.5h7M245.5 269v7M242 270.5h7M245.5 267v7M242 265.5h7M245.5 262v7M242 240.5h7M245.5 237v7M242 260.5h7M245.5 257v7M243 247.5h7M246.5 244v7M243 252.5h7M246.5 249v7M243 225.5h7M246.5 222v7M243 232.5h7M246.5 229v7M243 233.5h7M246.5 230v7M243 225.5h7M246.5 222v7M243 238.5h7M246.5 235v7M243 232.5h7M246.5 229v7M244 208.5h7M247.5 205v7M244 230.5h7M247.5 227v7M244 221.5h7M247.5 218v7M244 194.5h7M247.5 191v7M244 210.5h7M247.5 207v7M244 185.5h7M247.5 182v7M244 203.5h7M247.5 200v7M244 202.5h7M247.5 199v7M244 193.5h7M247.5 190v7M245 195.5h7M248.5 192v7M245 191.5h7M248.5 188v7M245 193.5h7M248.5 190v7M245 191.5h7M248.5 188v7M245 188.5h7M248.5 185v7M245 198.5h7M248.5 195v7M245 177.5h7M248.5 174v7M245 186.5h7M248.5 183v7M246 167.5h7M249.5 164v7M246 181.5h7M249.5 178v7M246 173.5h7M249.5 170v7M246 162.5h7M249.5 159v7M246 156.5h7M249.5 153v7M246 150.5h7M249.5 147v7M246 140.5h7M249.5 137v7M246 138.5h7M249.5 135v7M246 155.5h7M249.5 152v7M247 160.5h7M250.5 157v7M247 148.5h7M250.5 145v7M247 132.5h7M250.5 129v7M247 131.5h7M250.5 128v7M247 138.5h7M250.5 135v7M247 99.5h7M250.5 96v7M247 132.5h7M250.5 129v7M247 121.5h7M250.5 118v7M248 114.5h7M251.5 111v7M248 115.5h7M251.5 112v7M248 135.5h7M251.5 132v7M248 122.5h7M251.5 119v7M248 115.5h7M251.5 112v7M248 128.5h7M251.5 125v7M248 94.5h7M251.5 91v7M248 102.5h7M251.5 99v7M248 128.5h7M251.5 125v7M249 120.5h7M252.5 117v7M249 94.5h7M252.5 91v7M249 100.5h7M252.5 97v7M249 107.5h7M252.5 104v7M249 88.5h7M252.5 85v7M249 90.5h7M252.5 87v7M249 81.5h7M252.5 78v7M249 99.5h7M252.5 96v7M250 93.5h7M253.5 90v7M250 110.5h7M253.5 107v7M250 85.5h7M253.5 82v7M250 101.5h7M253.5 98v7M250 82.5h7M253.5 79v7M250 91.5h7M253.5 88v7M250 73.5h7M253.5 70v7M250 58.5h7M253.5 55v7M250 88.5h7M253.5 85v7M251 84.5h7M254.5 81v7M251 62.5h7M254.5 59v7M251 83.5h7M254.5 80v7M251 92.5h7M254.5 89v7M251 93.5h7M254.5 90v7M251 50.5h7M254.5 47v7M251 90.5h7M254.5 87v7M251 88.5h7M254.5 85v7M252 83.5h7M255.5 80v7M252 90.5h7M255.5 87v7M252 88.5h7M255.5 85v7M252 85.5h7M255.5 82v7M252 58.5h7M255.5 55v7M252 82.5h7M255.5 79v7M252 100.5h7M255.5 97v7M252 113.5h7M255.5 110v7M252 82.5h7M255.5 79v7M253 73.5h7M256.5 70v7M253 88.5h7M256.5 85v7M253 108.5h7M256.5 105v7M253 92.5h7M256.5 89v7M253 117.5h7M256.5 114v7M253 73.5h7M256.5 70v7M253 89.5h7M256.5 86v7M253 104.5h7M256.5 101v7M254 76.5h7M257.5 73v7M254 104.5h7M257.5 101v7M254 86.5h7M257.5 83v7M254 114.5h7M257.5 111v7M254 102.5h7M257.5 99v7M254 100.5h7M257.5 97v7M254 113.5h7M257.5 110v7M254 125.5h7M257.5 122v7M254 108.5h7M257.5 105v7M255 113.5h7M258.5 110v7M255 133.5h7M258.5 130v7M255 131.5h7M258.5 128v7M255 121.5h7M258.5 118v7M255 114.5h7M258.5 111v7M255 147.5h7M258.5 144v7M255 158.5h7M258.5 155v7M255 131.5h7M258.5 128v7M256 151.5h7M259.5 148v7M256 174.5h7M259.5 171v7M256 162.5h7M259.5 159v7M256 142.5h7M259.5 139v7M256 181.5h7M259.5 178v7M256 149.5h7M259.5 146v7M256 157.5h7M259.5 154v7M256 166.5h7M259.5 163v7M257 185.5h7M260.5 182v7M257 160.5h7M260.5 157v7M257 184.5h7M260.5 181v7M257 168.5h7M260.5 165v7M257 182.5h7M260.5 179v7M257 177.5h7M260.5 174v7M257 181.5h7M260.5 178v7M257 194.5h7M260.5 191v7M257 194.5h7M260.5 191v7M258 195.5h7M261.5 192v7M258 211.5h7M261.5 208v7M258 205.5h7M261.5 202v7M258 231.5h7M261.5 228v7M258 220.5h7M261.5 217v7M258 215.5h7M261.5 212v7M258 201.5h7M261.5 198v7M258 218.5h7M261.5 215v7M259 234.5h7M262.5 231v7M259 212.5h7M262.5 209v7M259 223.5h7M262.5 220v7M259 230.5h7M262.5 227v7M259 253.5h7M262.5 250v7M259 241.5h7M262.5 238v7M259 220.5h7M262.5 217v7M259 251.5h7M262.5 248v7M259 251.5h7M262.5 248v7M260 255.5h7M263.5 252v7M260 248.5h7M263.5 245v7M260 262.5h7M263.5 259v7M260 254.5h7M263.5 251v7M260 251.5h7M263.5 248v7M260 256.5h7M263.5 253v7M260 274.5h7M263.5 271v7M260 280.5h7M263.5 277v7M261 272.5h7M264.5 269v7M261 287.5h7M264.5 284v7M261 246.5h7M264.5 243v7M261 282.5h7M264.5 279v7M261 281.5h7M264.5 278v7M261 286.5h7M264.5 283v7M261 283.5h7M264.5 280v7M261 288.5h7M264.5 285v7M261 279.5h7M264.5 276v7M262 280.5h7M265.5 277v7M262 299.5h7M265.5 296v7M262 303.5h7M265.5 300v7M262 307.5h7M265.5 304v7M262 291.5h7M265.5 288v7M262 314.5h7M265.5 311v7M262 308.5h7M265.5 305v7M262 297.5h7M265.5 294v7M263 313.5h7M266.5 310v7M263 300.5h7M266.5 297v7M263 311.5h7M266.5 308v7M263 316.5h7M266.5 313v7M263 319.5h7M266.5 316v7M263 324.5h7M266.5 321v7M263 316.5h7M266.5 313v7M263 332.5h7M266.5 329v7M263 330.5h7M266.5 327v7M264 331.5h7M267.5 328v7M264 314.5h7M267.5 311v7M264 327.5h7M267.5 324v7M264 346.5h7M267.5 343v7M264 344.5h7M267.5 341v7M264 324.5h7M267.5 321v7M264 340.5h7M267.5 337v7M264 334.5h7M267.5 331v7M265 333.5h7M268.5 330v7M265 352.5h7M268.5 349v7M265 353.5h7M268.5 350v7M265 349.5h7M268.5 346v7M265 348.5h7M268.5 345v7M265 357.5h7M268.5 354v7M265 344.5h7M268.5 341v7M265 339.5h7M268.5 336v7M265 343.5h7M268.5 340v7M266 354.5h7M269.5 351v7M266 355.5h7M269.5 352v7M266 342.5h7M269.5 339v7M266 360.5h7M269.5 357v7M266 353.5h7M269.5 350v7M266 357.5h7M269.5 354v7M266 348.5h7M269.5 345v7M266 360.5h7M269.5 357v7M267 352.5h7M270.5 349v7M267 356.5h7M270.5 353v7M267 342.5h7M270.5 339v7M267 349.5h7M270.5 346v7M267 365.5h7M270.5 362v7M267 357.5h7M270.5 354v7M267 353.5h7M270.5 350v7M267 363.5h7M270.5 360v7M267 360.5h7M270.5 357v7M268 365.5h7M271.5 362v7M268 357.5h7M271.5 354v7M268 356.5h7M271.5 353v7M268 366.5h7M271.5 363v7M268 358.5h7M271.5 355v7M268 359.5h7M271.5 356v7M268 352.5h7M271.5 349v7M268 358.5h7M271.5 355v7M269 356.5h7M272.5 353v7M269 365.5h7M272.5 362v7M269 376.5h7M272.5 373v7M269 365.5h7M272.5 362v7M269 363.5h7M272.5 360v7M269 362.5h7M272.5 359v7M269 373.5h7M272.5 370v7M269 375.5h7M272.5 372v7M269 371.5h7M272.5 368v7M270 375.5h7M273.5 372v7M270 366.5h7M273.5 363v7M270 374.5h7M273.5 371v7M270 375.5h7M273.5 372v7M270 379.5h7M273.5 376v7M270 380.5h7M273.5 377v7M270 356.5h7M273.5 353v7M270 379.5h7M273.5 376v7M271 365.5h7M274.5 362v7M271 368.5h7M274.5 365v7M271 360.5h7M274.5 357v7M271 376.5h7M274.5 373v7M271 372.5h7M274.5 369v7M271 372.5h7M274.5 369v7M271 373.5h7M274.5 370v7M271 371.5h7M274.5 368v7M271 371.5h7M274.5 368v7M272 378.5h7M275.5 375v7M272 378.5h7M275.5 375v7M272 363.5h7M275.5 360v7M272 374.5h7M275.5 371v7M272 375.5h7M275.5 372v7M272 371.5h7M275.5 368v7M272 372.5h7M275.5 369v7M272 369.5h7M275.5 366v7M273 373.5h7M276.5 370v7M273 373.5h7M276.5 370v7M273 379.5h7M276.5 376v7M273 382.5h7M276.5 379v7M273 374.5h7M276.5 371v7M273 373.5h7M276.5 370v7M273 377.5h7M276.5 374v7M273 374.5h7M276.5 371v7M273 367.5h7M276.5 364v7M274 372.5h7M277.5 369v7M274 376.5h7M277.5 373v7M274 375.5h7M277.5 372v7M274 376.5h7M277.5 373v7M274 383.5h7M277.5 380v7M274 377.5h7M277.5 374v7M274 388.5h7M277.5 385v7M274 382.5h7M277.5 379v7M275 375.5h7M278.5 372v7M275 387.5h7M278.5 384v7M275 377.5h7M278.5 374v7M275 389.5h7M278.5 386v7M275 374.5h7M278.5 371v7M275 378.5h7M278.5 375v7M275 374.5h7M278.5 371v7M275 385.5h7M278.5 382v7M276 380.5h7M279.5 377v7M276 381.5h7M279.5 378v7M276 369.5h7M279.5 366v7M276 373.5h7M279.5 370v7M276 380.5h7M279.5 377v7M276 381.5h7M279.5 378v7M276 381.5h7M279.5 378v7M276 384.5h7M279.5 381v7M276 377.5h7M279.5 374v7M277 375.5h7M280.5 372v7M277 370.5h7M280.5 367v7M277 383.5h7M280.5 380v7M277 376.5h7M280.5 373v7M277 387.5h7M280.5 384v7M277 367.5h7M280.5 364v7M277 384.5h7M280.5 381v7M277 382.5h7M280.5 379v7M278 390.5h7M281.5 387v7M278 385.5h7M281.5 382v7M278 391.5h7M281.5 388v7M278 376.5h7M281.5 373v7M278 389.5h7M281.5 386v7M278 373.5h7M281.5 370v7M278 384.5h7M281.5 381v7M278 393.5h7M281.5 390v7M278 379.5h7M281.5 376v7M279 380.5h7M282.5 377v7M279 371.5h7M282.5 368v7M279 378.5h7M282.5 375v7M279 382.5h7M282.5 379v7M279 384.5h7M282.5 381v7M279 383.5h7M282.5 380v7M279 381.5h7M282.5 378v7M279 382.5h7M282.5 379v7M280 373.5h7M283.5 370v7M280 383.5h7M283.5 380v7M280 389.5h7M283.5 386v7M280 372.5h7M283.5 369v7M280 377.5h7M283.5 374v7M280 383.5h7M283.5 380v7M280 377.5h7M283.5 374v7M280 390.5h7M283.5 387v7M280 389.5h7M283.5 386v7M281 385.5h7M284.5 382v7M281 375.5h7M284.5 372v7M281 384.5h7M284.5 381v7M281 386.5h7M284.5 383v7M281 392.5h7M284.5 389v7M281 388.5h7M284.5 385v7M281 393.5h7M284.5 390v7M281 380.5h7M284.5 377v7M282 384.5h7M285.5 381v7M282 369.5h7M285.5 366v7M282 385.5h7M285.5 382v7M282 374.5h7M285.5 371v7M282 377.5h7M285.5 374v7M282 373.5h7M285.5 370v7M282 388.5h7M285.5 385v7M282 372.5h7M285.5 369v7M282 381.5h7M285.5 378v7M283 395.5h7M286.5 392v7M283 393.5h7M286.5 390v7M283 397.5h7M286.5 394v7M283 389.5h7M286.5 386v7M283 383.5h7M286.5 380v7M283 386.5h7M286.5 383v7M283 377.5h7M286.5 374v7M283 382.5h7M286.5 379v7M284 384.5h7M287.5 381v7M284 386.5h7M287.5 383v7M284 382.5h7M287.5 379v7M284 389.5h7M287.5 386v7M284 387.5h7M287.5 384v7M284 382.5h7M287.5 379v7M284 389.5h7M287.5 386v7M284 380.5h7M287.5 377v7M284 383.5h7M287.5 380v7M285 384.5h7M288.5 381v7M285 384.5h7M288.5 381v7M285 378.5h7M288.5 375v7M285 384.5h7M288.5 381v7M285 387.5h7M288.5 384v7M285 383.5h7M288.5 380v7M285 380.5h7M288.5 377v7M285 381.5h7M288.5 378v7M286 393.5h7M289.5 390v7M286 389.5h7M289.5 386v7M286 394.5h7M289.5 391v7M286 385.5h7M289.5 382v7M286 396.5h7M289.5 393v7M286 390.5h7M289.5 387v7M286 385.5h7M289.5 382v7M286 378.5h7M289.5 375v7M286 382.5h7M289.5 379v7M287 389.5h7M290.5 386v7M287 392.5h7M290.5 389v7M287 383.5h7M290.5 380v7M287 381.5h7M290.5 378v7M287 391.5h7M290.5 388v7M287 379.5h7M290.5 376v7M287 387.5h7M290.5 384v7M287 395.5h7M290.5 392v7M288 388.5h7M291.5 385v7M288 383.5h7M291.5 380v7M288 384.5h7M291.5 381v7M288 392.5h7M291.5 389v7M288 387.5h7M291.5 384v7M288 382.5h7M291.5 379v7M288 391.5h7M291.5 388v7M288 392.5h7M291.5 389v7M288 389.5h7M291.5 386v7M289 392.5h7M292.5 389v7M289 392.5h7M292.5 389v7M289 387.5h7M292.5 384v7M289 393.5h7M292.5 390v7M289 385.5h7M292.5 382v7M289 397.5h7M292.5 394v7M289 390.5h7M292.5 387v7M289 392.5h7M292.5 389v7M290 388.5h7M293.5 385v7M290 370.5h7M293.5 367v7M290 380.5h7M293.5 377v7M290 385.5h7M293.5 382v7M290 382.5h7M293.5 379v7M290 391.5h7M293.5 388v7M290 386.5h7M293.5 383v7M290 390.5h7M293.5 387v7M290 389.5h7M293.5 386v7M291 386.5h7M294.5 383v7M291 390.5h7M294.5 387v7M291 371.5h7M294.5 368v7M291 386.5h7M294.5 383v7M291 393.5h7M294.5 390v7M291 389.5h7M294.5 386v7M291 383.5h7M294.5 380v7M291 389.5h7M294.5 386v7M292 387.5h7M295.5 384v7M292 393.5h7M295.5 390v7M292 394.5h7M295.5 391v7M292 393.5h7M295.5 390v7M292 388.5h7M295.5 385v7M292 384.5h7M295.5 381v7M292 392.5h7M295.5 389v7M292 383.5h7M295.5 380v7M292 376.5h7M295.5 373v7M293 378.5h7M296.5 375v7M293 383.5h7M296.5 380v7M293 385.5h7M296.5 382v7M293 388.5h7M296.5 385v7M293 393.5h7M296.5 390v7M293 398.5h7M296.5 395v7M293 394.5h7M296.5 391v7M293 397.5h7M296.5 394v7M294 397.5h7M297.5 394v7M294 383.5h7M297.5 380v7M294 388.5h7M297.5 385v7M294 389.5h7M297.5 386v7M294 388.5h7M297.5 385v7M294 394.5h7M297.5 391v7M294 398.5h7M297.5 395v7M294 399.5h7M297.5 396v7M294 392.5h7M297.5 389v7M295 396.5h7M298.5 393v7M295 394.5h7M298.5 391v7M295 393.5h7M298.5 390v7M295 389.5h7M298.5 386v7M295 382.5h7M298.5 379v7M295 398.5h7M298.5 395v7M295 396.5h7M298.5 393v7M295 391.5h7M298.5 388v7M296 389.5h7M299.5 386v7M296 382.5h7M299.5 379v7M296 398.5h7M299.5 395v7M296 381.5h7M299.5 378v7M296 393.5h7M299.5 390v7M296 385.5h7M299.5 382v7M296 388.5h7M299.5 385v7M296 391.5h7M299.5 388v7M297 389.5h7M300.5 386v7M297 393.5h7M300.5 390v7M297 400.5h7M300.5 397v7M297 392.5h7M300.5 389v7M297 393.5h7M300.5 390v7M297 398.5h7M300.5 395v7M297 390.5h7M300.5 387v7M297 388.5h7M300.5 385v7M297 389.5h7M300.5 386v7M298 387.5h7M301.5 384v7M298 388.5h7M301.5 385v7M298 388.5h7M301.5 385v7M298 388.5h7M301.5 385v7M298 393.5h7M301.5 390v7M298 391.5h7M301.5 388v7M298 394.5h7M301.5 391v7M298 391.5h7M301.5 388v7M299 402.5h7M302.5 399v7M299 390.5h7M302.5 387v7M299 401.5h7M302.5 398v7M299 388.5h7M302.5 385v7M299 392.5h7M302.5 389v7M299 395.5h7M302.5 392v7M299 394.5h7M302.5 391v7M299 392.5h7M302.5 389v7M299 395.5h7M302.5 392v7M300 391.5h7M303.5 388v7M300 399.5h7M303.5 396v7M300 395.5h7M303.5 392v7M300 392.5h7M303.5 389v7M300 389.5h7M303.5 386v7M300 391.5h7M303.5 388v7M300 391.5h7M303.5 388v7M300 397.5h7M303.5 394v7M301 384.5h7M304.5 381v7M301 394.5h7M304.5 391v7M301 394.5h7M304.5 391v7M301 392.5h7M304.5 389v7M301 386.5h7M304.5 383v7M301 403.5h7M304.5 400v7M301 397.5h7M304.5 394v7M301 393.5h7M304.5 390v7M301 405.5h7M304.5 402v7M302 395.5h7M305.5 392v7M302 396.5h7M305.5 393v7M302 393.5h7M305.5 390v7M302 398.5h7M305.5 395v7M302 395.5h7M305.5 392v7M302 387.5h7M305.5 384v7M302 394.5h7M305.5 391v7M302 393.5h7M305.5 390v7M303 381.5h7M306.5 378v7M303 383.5h7M306.5 380v7M303 390.5h7M306.5 387v7M303 400.5h7M306.5 397v7M303 396.5h7M306.5 393v7M303 394.5h7M306.5 391v7M303 396.5h7M306.5 393v7M303 394.5h7M306.5 391v7M303 389.5h7M306.5 386v7M304 397.5h7M307.5 394v7M304 396.5h7M307.5 393v7M304 392.5h7M307.5 389v7M304 399.5h7M307.5 396v7M304 395.5h7M307.5 392v7M304 382.5h7M307.5 379v7M304 392.5h7M307.5 389v7M304 392.5h7M307.5 389v7M305 397.5h7M308.5 394v7M305 403.5h7M308.5 400v7M305 400.5h7M308.5 397v7M305 395.5h7M308.5 392v7M305 395.5h7M308.5 392v7M305 390.5h7M308.5 387v7M305 391.5h7M308.5 388v7M305 401.5h7M308.5 398v7M305 397.5h7M308.5 394v7M306 392.5h7M309.5 389v7M306 401.5h7M309.5 398v7M306 397.5h7M309.5 394v7M306 391.5h7M309.5 388v7M306 404.5h7M309.5 401v7M306 397.5h7M309.5 394v7M306 397.5h7M309.5 394v7M306 391.5h7M309.5 388v7M307 386.5h7M310.5 383v7M307 389.5h7M310.5 386v7M307 388.5h7M310.5 385v7M307 402.5h7M310.5 399v7M307 398.5h7M310.5 395v7M307 387.5h7M310.5 384v7M307 400.5h7M310.5 397v7M307 400.5h7M310.5 397v7M307 399.5h7M310.5 396v7M308 396.5h7M311.5 393v7M308 400.5h7M311.5 397v7M308 402.5h7M311.5 399v7M308 392.5h7M311.5 389v7M308 401.5h7M311.5 398v7M308 400.5h7M311.5 397v7M308 396.5h7M311.5 393v7M308 394.5h7M311.5 391v7M309 394.5h7M312.5 391v7M309 392.5h7M312.5 389v7M309 393.5h7M312.5 390v7M309 398.5h7M312.5 395v7M309 399.5h7M312.5 396v7M309 389.5h7M312.5 386v7M309 395.5h7M312.5 392v7M309 397.5h7M312.5 394v7M309 397.5h7M312.5 394v7M310 397.5h7M313.5 394v7M310 392.5h7M313.5 389v7M310 388.5h7M313.5 385v7M310 402.5h7M313.5 399v7M310 390.5h7M313.5 387v7M310 391.5h7M313.5 388v7M310 400.5h7M313.5 397v7M310 403.5h7M313.5 400v7M311 393.5h7M314.5 390v7M311 385.5h7M314.5 382v7M311 392.5h7M314.5 389v7M311 388.5h7M314.5 385v7M311 399.5h7M314.5 396v7M311 400.5h7M314.5 397v7M311 404.5h7M314.5 401v7M311 410.5h7M314.5 407v7M311 394.5h7M314.5 391v7M312 402.5h7M315.5 399v7M312 395.5h7M315.5 392v7M312 395.5h7M315.5 392v7M312 395.5h7M315.5 392v7M312 398.5h7M315.5 395v7M312 397.5h7M315.5 394v7M312 400.5h7M315.5 397v7M312 392.5h7M315.5 389v7M313 390.5h7M316.5 387v7M313 404.5h7M316.5 401v7M313 402.5h7M316.5 399v7M313 398.5h7M316.5 395v7M313 401.5h7M316.5 398v7M313 402.5h7M316.5 399v7M313 392.5h7M316.5 389v7M313 388.5h7M316.5 385v7M313 396.5h7M316.5 393v7M314 396.5h7M317.5 393v7M314 404.5h7M317.5 401v7M314 399.5h7M317.5 396v7M314 401.5h7M317.5 398v7M314 398.5h7M317.5 395v7M314 405.5h7M317.5 402v7M314 401.5h7M317.5 398v7M314 390.5h7M317.5 387v7M315 397.5h7M318.5 394v7M315 398.5h7M318.5 395v7M315 394.5h7M318.5 391v7M315 390.5h7M318.5 387v7M315 401.5h7M318.5 398v7M315 400.5h7M318.5 397v7M315 396.5h7M318.5 393v7M315 382.5h7M318.5 379v7M316 387.5h7M319.5 384v7M316 396.5h7M319.5 393v7M316 394.5h7M319.5 391v7M316 408.5h7M319.5 405v7M316 386.5h7M319.5 383v7M316 391.5h7M319.5 388v7M316 402.5h7M319.5 399v7M316 399.5h7M319.5 396v7M316 401.5h7M319.5 398v7M317 390.5h7M320.5 387v7M317 396.5h7M320.5 393v7M317 397.5h7M320.5 394v7M317 391.5h7M320.5 388v7M317 402.5h7M320.5 399v7M317 393.5h7M320.5 390v7M317 388.5h7M320.5 385v7M317 401.5h7M320.5 398v7M318 389.5h7M321.5 386v7M318 389.5h7M321.5 386v7M318 388.5h7M321.5 385v7M318 393.5h7M321.5 390v7M318 404.5h7M321.5 401v7M318 398.5h7M321.5 395v7M318 397.5h7M321.5 394v7M318 404.5h7M321.5 401v7M318 402.5h7M321.5 399v7M319 399.5h7M322.5 396v7M319 397.5h7M322.5 394v7M319 395.5h7M322.5 392v7M319 400.5h7M322.5 397v7M319 399.5h7M322.5 396v7M319 401.5h7M322.5 398v7M319 393.5h7M322.5 390v7M319 391.5h7M322.5 388v7M320 392.5h7M323.5 389v7M320 392.5h7M323.5 389v7M320 402.5h7M323.5 399v7M320 391.5h7M323.5 388v7M320 400.5h7M323.5 397v7M320 394.5h7M323.5 391v7M320 402.5h7M323.5 399v7M320 390.5h7M323.5 387v7M320 387.5h7M323.5 384v7M321 399.5h7M324.5 396v7M321 399.5h7M324.5 396v7M321 392.5h7M324.5 389v7M321 398.5h7M324.5 395v7M321 394.5h7M324.5 391v7M321 392.5h7M324.5 389v7M321 399.5h7M324.5 396v7M321 400.5h7M324.5 397v7M322 393.5h7M325.5 390v7M322 395.5h7M325.5 392v7M322 399.5h7M325.5 396v7M322 397.5h7M325.5 394v7M322 399.5h7M325.5 396v7M322 405.5h7M325.5 402v7M322 396.5h7M325.5 393v7M322 394.5h7M325.5 391v7M322 405.5h7M325.5 402v7M323 399.5h7M326.5 396v7M323 396.5h7M326.5 393v7M323 403.5h7M326.5 400v7M323 396.5h7M326.5 393v7M323 397.5h7M326.5 394v7M323 401.5h7M326.5 398v7M323 398.5h7M326.5 395v7M323 398.5h7M326.5 395v7M324 399.5h7M327.5 396v7M324 406.5h7M327.5 403v7M324 396.5h7M327.5 393v7M324 394.5h7M327.5 391v7M324 401.5h7M327.5 398v7M324 398.5h7M327.5 395v7M324 394.5h7M327.5 391v7M324 399.5h7M327.5 396v7M324 396.5h7M327.5 393v7M325 394.5h7M328.5 391v7M325 398.5h7M328.5 395v7M325 397.5h7M328.5 394v7M325 391.5h7M328.5 388v7M325 396.5h7M328.5 393v7M325 393.5h7M328.5 390v7M325 401.5h7M328.5 398v7M325 402.5h7M328.5 399v7M326 399.5h7M329.5 396v7M326 392.5h7M329.5 389v7M326 402.5h7M329.5 399v7M326 394.5h7M329.5 391v7M326 393.5h7M329.5 390v7M326 390.5h7M329.5 387v7M326 396.5h7M329.5 393v7M326 401.5h7M329.5 398v7M326 396.5h7M329.5 393v7M327 392.5h7M330.5 389v7M327 397.5h7M330.5 394v7M327 386.5h7M330.5 383v7M327 394.5h7M330.5 391v7M327 404.5h7M330.5 401v7M327 389.5h7M330.5 386v7M327 393.5h7M330.5 390v7M327 391.5h7M330.5 388v7M328 399.5h7M331.5 396v7M328 398.5h7M331.5 395v7M328 396.5h7M331.5 393v7M328 397.5h7M331.5 394v7M328 403.5h7M331.5 400v7M328 398.5h7M331.5 395v7M328 399.5h7M331.5 396v7M328 400.5h7M331.5 397v7M328 410.5h7M331.5 407v7M329 401.5h7M332.5 398v7M329 388.5h7M332.5 385v7M329 405.5h7M332.5 402v7M329 394.5h7M332.5 391v7M329 397.5h7M332.5 394v7M329 395.5h7M332.5 392v7M329 393.5h7M332.5 390v7M329 401.5h7M332.5 398v7M330 397.5h7M333.5 394v7M330 400.5h7M333.5 397v7M330 390.5h7M333.5 387v7M330 391.5h7M333.5 388v7M330 395.5h7M333.5 392v7M330 397.5h7M333.5 394v7M330 405.5h7M333.5 402v7M330 387.5h7M333.5 384v7M330 390.5h7M333.5 387v7M331 401.5h7M334.5 398v7M331 406.5h7M334.5 403v7M331 395.5h7M334.5 392v7M331 391.5h7M334.5 388v7M331 388.5h7M334.5 385v7M331 401.5h7M334.5 398v7M331 401.5h7M334.5 398v7M331 393.5h7M334.5 390v7M332 401.5h7M335.5 398v7M332 393.5h7M335.5 390v7M332 397.5h7M335.5 394v7M332 400.5h7M335.5 397v7M332 404.5h7M335.5 401v7M332 393.5h7M335.5 390v7M332 400.5h7M335.5 397v7M332 396.5h7M335.5 393v7M332 391.5h7M335.5 388v7M333 405.5h7M336.5 402v7M333 400.5h7M336.5 397v7M333 392.5h7M336.5 389v7M333 401.5h7M336.5 398v7M333 395.5h7M336.5 392v7M333 392.5h7M336.5 389v7M333 398.5h7M336.5 395v7M333 405.5h7M336.5 402v7M334 392.5h7M337.5 389v7M334 391.5h7M337.5 388v7M334 397.5h7M337.5 394v7M334 397.5h7M337.5 394v7M334 399.5h7M337.5 396v7M334 391.5h7M337.5 388v7M334 389.5h7M337.5 386v7M334 398.5h7M337.5 395v7M335 389.5h7M338.5 386v7M335 407.5h7M338.5 404v7M335 395.5h7M338.5 392v7M335 388.5h7M338.5 385v7M335 393.5h7M338.5 390v7M335 393.5h7M338.5 390v7M335 388.5h7M338.5 385v7M335 403.5h7M338.5 400v7M335 405.5h7M338.5 402v7M336 399.5h7M339.5 396v7M336 401.5h7M339.5 398v7M336 399.5h7M339.5 396v7M336 396.5h7M339.5 393v7M336 391.5h7M339.5 388v7M336 393.5h7M339.5 390v7M336 397.5h7M339.5 394v7M336 402.5h7M339.5 399v7M337 397.5h7M340.5 394v7M337 394.5h7M340.5 391v7M337 395.5h7M340.5 392v7M337 401.5h7M340.5 398v7M337 396.5h7M340.5 393v7M337 399.5h7M340.5 396v7M337 403.5h7M340.5 400v7M337 400.5h7M340.5 397v7M337 400.5h7M340.5 397v7M338 397.5h7M341.5 394v7M338 398.5h7M341.5 395v7M338 398.5h7M341.5 395v7M338 390.5h7M341.5 387v7M338 394.5h7M341.5 391v7M338 399.5h7M341.5 396v7M338 404.5h7M341.5 401v7M338 404.5h7M341.5 401v7M339 402.5h7M342.5 399v7M339 397.5h7M342.5 394v7M339 395.5h7M342.5 392v7M339 398.5h7M342.5 395v7M339 401.5h7M342.5 398v7M339 389.5h7M342.5 386v7M339 397.5h7M342.5 394v7M339 400.5h7M342.5 397v7M339 399.5h7M342.5 396v7M340 405.5h7M343.5 402v7M340 398.5h7M343.5 395v7M340 403.5h7M343.5 400v7M340 399.5h7M343.5 396v7M340 393.5h7M343.5 390v7M340 404.5h7M343.5 401v7M340 397.5h7M343.5 394v7M340 399.5h7M343.5 396v7M341 392.5h7M344.5 389v7M341 392.5h7M344.5 389v7M341 398.5h7M344.5 395v7M341 405.5h7M344.5 402v7M341 404.5h7M344.5 401v7M341 397.5h7M344.5 394v7M341 404.5h7M344.5 401v7M341 397.5h7M344.5 394v7M341 395.5h7M344.5 392v7M342 397.5h7M345.5 394v7M342 397.5h7M345.5 394v7M342 397.5h7M345.5 394v7M342 391.5h7M345.5 388v7M342 403.5h7M345.5 400v7M342 394.5h7M345.5 391v7M342 394.5h7M345.5 391v7M342 391.5h7M345.5 388v7M343 399.5h7M346.5 396v7M343 397.5h7M346.5 394v7M343 398.5h7M346.5 395v7M343 390.5h7M346.5 387v7M343 400.5h7M346.5 397v7M343 394.5h7M346.5 391v7M343 402.5h7M346.5 399v7M343 398.5h7M346.5 395v7M343 404.5h7M346.5 401v7M344 392.5h7M347.5 389v7M344 382.5h7M347.5 379v7M344 397.5h7M347.5 394v7M344 401.5h7M347.5 398v7M344 395.5h7M347.5 392v7M344 401.5h7M347.5 398v7M344 396.5h7M347.5 393v7M344 403.5h7M347.5 400v7M345 389.5h7M348.5 386v7M345 402.5h7M348.5 399v7M345 388.5h7M348.5 385v7M345 400.5h7M348.5 397v7M345 403.5h7M348.5 400v7M345 400.5h7M348.5 397v7M345 402.5h7M348.5 399v7M345 395.5h7M348.5 392v7M345 397.5h7M348.5 394v7M346 396.5h7M349.5 393v7M346 394.5h7M349.5 391v7M346 392.5h7M349.5 389v7M346 407.5h7M349.5 404v7M346 400.5h7M349.5 397v7M346 400.5h7M349.5 397v7M346 397.5h7M349.5 394v7M346 401.5h7M349.5 398v7M347 402.5h7M350.5 399v7M347 402.5h7M350.5 399v7M347 400.5h7M350.5 397v7M347 401.5h7M350.5 398v7M347 398.5h7M350.5 395v7M347 389.5h7M350.5 386v7M347 400.5h7M350.5 397v7M347 398.5h7M350.5 395v7M347 396.5h7M350.5 393v7M348 391.5h7M351.5 388v7M348 403.5h7M351.5 400v7M348 402.5h7M351.5 399v7M348 401.5h7M351.5 398v7M348 396.5h7M351.5 393v7M348 398.5h7M351.5 395v7M348 404.5h7M351.5 401v7M348 402.5h7M351.5 399v7M349 402.5h7M352.5 399v7M349 399.5h7M352.5 396v7M349 400.5h7M352.5 397v7M349 405.5h7M352.5 402v7M349 399.5h7M352.5 396v7M349 397.5h7M352.5 394v7M349 392.5h7M352.5 389v7M349 401.5h7M352.5 398v7M349 394.5h7M352.5 391v7M350 399.5h7M353.5 396v7M350 400.5h7M353.5 397v7M350 402.5h7M353.5 399v7M350 394.5h7M353.5 391v7M350 397.5h7M353.5 394v7M350 402.5h7M353.5 399v7M350 399.5h7M353.5 396v7M350 400.5h7M353.5 397v7M351 395.5h7M354.5 392v7M351 403.5h7M354.5 400v7M351 397.5h7M354.5 394v7M351 399.5h7M354.5 396v7M351 401.5h7M354.5 398v7M351 395.5h7M354.5 392v7M351 399.5h7M354.5 396v7M351 399.5h7M354.5 396v7M351 394.5h7M354.5 391v7M352 400.5h7M355.5 397v7M352 393.5h7M355.5 390v7M352 396.5h7M355.5 393v7M352 396.5h7M355.5 393v7M352 398.5h7M355.5 395v7M352 400.5h7M355.5 397v7M352 404.5h7M355.5 401v7M352 400.5h7M355.5 397v7M353 404.5h7M356.5 401v7M353 397.5h7M356.5 394v7M353 394.5h7M356.5 391v7M353 395.5h7M356.5 392v7M353 401.5h7M356.5 398v7M353 392.5h7M356.5 389v7M353 401.5h7M356.5 398v7M353 393.5h7M356.5 390v7M354 398.5h7M357.5 395v7M354 396.5h7M357.5 393v7M354 388.5h7M357.5 385v7M354 401.5h7M357.5 398v7M354 400.5h7M357.5 397v7M354 398.5h7M357.5 395v7M354 397.5h7M357.5 394v7M354 395.5h7M357.5 392v7M354 400.5h7M357.5 397v7M355 401.5h7M358.5 398v7M355 401.5h7M358.5 398v7M355 396.5h7M358.5 393v7M355 401.5h7M358.5 398v7M355 395.5h7M358.5 392v7M355 407.5h7M358.5 404v7M355 397.5h7M358.5 394v7M355 396.5h7M358.5 393v7M356 400.5h7M359.5 397v7M356 396.5h7M359.5 393v7M356 388.5h7M359.5 385v7M356 398.5h7M359.5 395v7M356 399.5h7M359.5 396v7M356 403.5h7M359.5 400v7M356 407.5h7M359.5 404v7M356 399.5h7M359.5 396v7M356 401.5h7M359.5 398v7M357 405.5h7M360.5 402v7M357 395.5h7M360.5 392v7M357 390.5h7M360.5 387v7M357 393.5h7M360.5 390v7M357 388.5h7M360.5 385v7M357 396.5h7M360.5 393v7M357 403.5h7M360.5 400v7M357 395.5h7M360.5 392v7M358 392.5h7M361.5 389v7M358 394.5h7M361.5 391v7M358 394.5h7M361.5 391v7M358 399.5h7M361.5 396v7M358 395.5h7M361.5 392v7M358 393.5h7M361.5 390v7M358 401.5h7M361.5 398v7M358 400.5h7M361.5 397v7M358 404.5h7M361.5 401v7M359 399.5h7M362.5 396v7M359 397.5h7M362.5 394v7M359 393.5h7M362.5 390v7M359 402.5h7M362.5 399v7M359 393.5h7M362.5 390v7M359 401.5h7M362.5 398v7M359 403.5h7M362.5 400v7M359 401.5h7M362.5 398v7M360 403.5h7M363.5 400v7M360 390.5h7M363.5 387v7M360 394.5h7M363.5 391v7M360 399.5h7M363.5 396v7M360 393.5h7M363.5 390v7M360 397.5h7M363.5 394v7M360 399.5h7M363.5 396v7M360 400.5h7M363.5 397v7M360 396.5h7M363.5 393v7M361 399.5h7M364.5 396v7M361 392.5h7M364.5 389v7M361 401.5h7M364.5 398v7M361 398.5h7M364.5 395v7M361 402.5h7M364.5 399v7M361 398.5h7M364.5 395v7M361 403.5h7M364.5 400v7M361 398.5h7M364.5 395v7M362 399.5h7M365.5 396v7M362 400.5h7M365.5 397v7M362 395.5h7M365.5 392v7M362 391.5h7M365.5 388v7M362 398.5h7M365.5 395v7M362 396.5h7M365.5 393v7M362 396.5h7M365.5 393v7M362 396.5h7M365.5 393v7M362 399.5h7M365.5 396v7M363 398.5h7M366.5 395v7M363 405.5h7M366.5 402v7M363 404.5h7M366.5 401v7M363 402.5h7M366.5 399v7M363 391.5h7M366.5 388v7M363 392.5h7M366.5 389v7M363 405.5h7M366.5 402v7M363 402.5h7M366.5 399v7M364 396.5h7M367.5 393v7M364 399.5h7M367.5 396v7M364 398.5h7M367.5 395v7M364 403.5h7M367.5 400v7M364 397.5h7M367.5 394v7M364 405.5h7M367.5 402v7M364 400.5h7M367.5 397v7M364 393.5h7M367.5 390v7M364 398.5h7M367.5 395v7M365 401.5h7M368.5 398v7M365 394.5h7M368.5 391v7M365 398.5h7M368.5 395v7M365 395.5h7M368.5 392v7M365 401.5h7M368.5 398v7M365 394.5h7M368.5 391v7M365 389.5h7M368.5 386v7M365 401.5h7M368.5 398v7M366 399.5h7M369.5 396v7M366 398.5h7M369.5 395v7M366 397.5h7M369.5 394v7M366 398.5h7M369.5 395v7M366 394.5h7M369.5 391v7M366 392.5h7M369.5 389v7M366 391.5h7M369.5 388v7M366 395.5h7M369.5 392v7M366 393.5h7M369.5 390v7M367 396.5h7M370.5 393v7M367 393.5h7M370.5 390v7M367 394.5h7M370.5 391v7M367 400.5h7M370.5 397v7M367 401.5h7M370.5 398v7M367 383.5h7M370.5 380v7M367 393.5h7M370.5 390v7M367 394.5h7M370.5 391v7M368 401.5h7M371.5 398v7M368 401.5h7M371.5 398v7M368 402.5h7M371.5 399v7M368 394.5h7M371.5 391v7M368 398.5h7M371.5 395v7M368 402.5h7M371.5 399v7M368 390.5h7M371.5 387v7M368 397.5h7M371.5 394v7M368 401.5h7M371.5 398v7M369 397.5h7M372.5 394v7M369 402.5h7M372.5 399v7M369 396.5h7M372.5 393v7M369 392.5h7M372.5 389v7M369 397.5h7M372.5 394v7M369 397.5h7M372.5 394v7M369 399.5h7M372.5 396v7M369 404.5h7M372.5 401v7M370 398.5h7M373.5 395v7M370 403.5h7M373.5 400v7M370 390.5h7M373.5 387v7M370 396.5h7M373.5 393v7M370 398.5h7M373.5 395v7M370 395.5h7M373.5 392v7M370 391.5h7M373.5 388v7M370 396.5h7M373.5 393v7M370 401.5h7M373.5 398v7M371 389.5h7M374.5 386v7M371 396.5h7M374.5 393v7M371 399.5h7M374.5 396v7M371 396.5h7M374.5 393v7M371 394.5h7M374.5 391v7M371 394.5h7M374.5 391v7M371 392.5h7M374.5 389v7M371 399.5h7M374.5 396v7M372 401.5h7M375.5 398v7M372 397.5h7M375.5 394v7M372 395.5h7M375.5 392v7M372 391.5h7M375.5 388v7M372 397.5h7M375.5 394v7M372 395.5h7M375.5 392v7M372 398.5h7M375.5 395v7M372 391.5h7M375.5 388v7M373 394.5h7M376.5 391v7M373 390.5h7M376.5 387v7M373 390.5h7M376.5 387v7M373 396.5h7M376.5 393v7M373 396.5h7M376.5 393v7M373 398.5h7M376.5 395v7M373 396.5h7M376.5 393v7M373 395.5h7M376.5 392v7M373 404.5h7M376.5 401v7M374 396.5h7M377.5 393v7M374 394.5h7M377.5 391v7M374 398.5h7M377.5 395v7M374 396.5h7M377.5 393v7M374 403.5h7M377.5 400v7M374 396.5h7M377.5 393v7M374 393.5h7M377.5 390v7M374 392.5h7M377.5 389v7M375 399.5h7M378.5 396v7M375 406.5h7M378.5 403v7M375 395.5h7M378.5 392v7M375 399.5h7M378.5 396v7M375 396.5h7M378.5 393v7M375 399.5h7M378.5 396v7M375 396.5h7M378.5 393v7M375 400.5h7M378.5 397v7M375 393.5h7M378.5 390v7M376 387.5h7M379.5 384v7M376 401.5h7M379.5 398v7M376 387.5h7M379.5 384v7M376 399.5h7M379.5 396v7M376 404.5h7M379.5 401v7M376 395.5h7M379.5 392v7M376 407.5h7M379.5 404v7M376 397.5h7M379.5 394v7M377 399.5h7M380.5 396v7M377 397.5h7M380.5 394v7M377 394.5h7M380.5 391v7M377 398.5h7M380.5 395v7M377 398.5h7M380.5 395v7M377 397.5h7M380.5 394v7M377 402.5h7M380.5 399v7M377 397.5h7M380.5 394v7M377 395.5h7M380.5 392v7M378 401.5h7M381.5 398v7M378 396.5h7M381.5 393v7M378 402.5h7M381.5 399v7M378 400.5h7M381.5 397v7M378 397.5h7M381.5 394v7M378 401.5h7M381.5 398v7M378 391.5h7M381.5 388v7M378 400.5h7M381.5 397v7M379 388.5h7M382.5 385v7M379 387.5h7M382.5 384v7M379 401.5h7M382.5 398v7M379 403.5h7M382.5 400v7M379 404.5h7M382.5 401v7M379 402.5h7M382.5 399v7M379 393.5h7M382.5 390v7M379 401.5h7M382.5 398v7M379 395.5h7M382.5 392v7M380 389.5h7M383.5 386v7M380 394.5h7M383.5 391v7M380 396.5h7M383.5 393v7M380 392.5h7M383.5 389v7M380 395.5h7M383.5 392v7M380 403.5h7M383.5 400v7M380 403.5h7M383.5 400v7M380 391.5h7M383.5 388v7M381 398.5h7M384.5 395v7M381 388.5h7M384.5 385v7M381 395.5h7M384.5 392v7M381 397.5h7M384.5 394v7M381 394.5h7M384.5 391v7M381 393.5h7M384.5 390v7M381 390.5h7M384.5 387v7M381 398.5h7M384.5 395v7M381 399.5h7M384.5 396v7M382 399.5h7M385.5 396v7M382 392.5h7M385.5 389v7M382 387.5h7M385.5 384v7M382 407.5h7M385.5 404v7M382 390.5h7M385.5 387v7M382 393.5h7M385.5 390v7M382 396.5h7M385.5 393v7M382 398.5h7M385.5 395v7M383 398.5h7M386.5 395v7M383 401.5h7M386.5 398v7M383 394.5h7M386.5 391v7M383 399.5h7M386.5 396v7M383 398.5h7M386.5 395v7M383 403.5h7M386.5 400v7M383 396.5h7M386.5 393v7M383 390.5h7M386.5 387v7M383 390.5h7M386.5 387v7M384 396.5h7M387.5 393v7M384 397.5h7M387.5 394v7M384 393.5h7M387.5 390v7M384 398.5h7M387.5 395v7M384 396.5h7M387.5 393v7M384 393.5h7M387.5 390v7M384 388.5h7M387.5 385v7M384 403.5h7M387.5 400v7M385 394.5h7M388.5 391v7M385 391.5h7M388.5 388v7M385 386.5h7M388.5 383v7M385 394.5h7M388.5 391v7M385 399.5h7M388.5 396v7M385 392.5h7M388.5 389v7M385 396.5h7M388.5 393v7M385 391.5h7M388.5 388v7M385 397.5h7M388.5 394v7M386 406.5h7M389.5 403v7M386 398.5h7M389.5 395v7M386 392.5h7M389.5 389v7M386 398.5h7M389.5 395v7M386 396.5h7M389.5 393v7M386 398.5h7M389.5 395v7M386 392.5h7M389.5 389v7M386 390.5h7M389.5 387v7M387 402.5h7M390.5 399v7M387 398.5h7M390.5 395v7M387 391.5h7M390.5 388v7M387 397.5h7M390.5 394v7M387 404.5h7M390.5 401v7M387 391.5h7M390.5 388v7M387 401.5h7M390.5 398v7M387 396.5h7M390.5 393v7M387 399.5h7M390.5 396v7M388 399.5h7M391.5 396v7M388 398.5h7M391.5 395v7M388 393.5h7M391.5 390v7M388 403.5h7M391.5 400v7M388 389.5h7M391.5 386v7M388 393.5h7M391.5 390v7M388 393.5h7M391.5 390v7M388 395.5h7M391.5 392v7M389 404.5h7M392.5 401v7M389 392.5h7M392.5 389v7M389 397.5h7M392.5 394v7M389 394.5h7M392.5 391v7M389 393.5h7M392.5 390v7M389 398.5h7M392.5 395v7M389 403.5h7M392.5 400v7M389 403.5h7M392.5 400v7M389 400.5h7M392.5 397v7M390 399.5h7M393.5 396v7M390 389.5h7M393.5 386v7M390 400.5h7M393.5 397v7M390 397.5h7M393.5 394v7M390 393.5h7M393.5 390v7M390 387.5h7M393.5 384v7M390 392.5h7M393.5 389v7M390 395.5h7M393.5 392v7M391 398.5h7M394.5 395v7M391 401.5h7M394.5 398v7M391 397.5h7M394.5 394v7M391 392.5h7M394.5 389v7M391 396.5h7M394.5 393v7M391 395.5h7M394.5 392v7M391 397.5h7M394.5 394v7M391 393.5h7M394.5 390v7M391 396.5h7M394.5 393v7M392 394.5h7M395.5 391v7M392 396.5h7M395.5 393v7M392 399.5h7M395.5 396v7M392 398.5h7M395.5 395v7M392 405.5h7M395.5 402v7M392 404.5h7M395.5 401v7M392 399.5h7M395.5 396v7M392 394.5h7M395.5 391v7M393 396.5h7M396.5 393v7M393 390.5h7M396.5 387v7M393 405.5h7M396.5 402v7M393 394.5h7M396.5 391v7M393 399.5h7M396.5 396v7M393 395.5h7M396.5 392v7M393 396.5h7M396.5 393v7M393 403.5h7M396.5 400v7M394 403.5h7M397.5 400v7M394 400.5h7M397.5 397v7M394 392.5h7M397.5 389v7M394 406.5h7M397.5 403v7M394 399.5h7M397.5 396v7M394 406.5h7M397.5 403v7M394 402.5h7M397.5 399v7M394 399.5h7M397.5 396v7M394 394.5h7M397.5 391v7M395 396.5h7M398.5 393v7M395 389.5h7M398.5 386v7M395 396.5h7M398.5 393v7M395 390.5h7M398.5 387v7M395 396.5h7M398.5 393v7M395 399.5h7M398.5 396v7M395 391.5h7M398.5 388v7M395 399.5h7M398.5 396v7M396 404.5h7M399.5 401v7M396 388.5h7M399.5 385v7M396 406.5h7M399.5 403v7M396 402.5h7M399.5 399v7M396 400.5h7M399.5 397v7M396 405.5h7M399.5 402v7M396 394.5h7M399.5 391v7M396 403.5h7M399.5 400v7M396 401.5h7M399.5 398v7M397 396.5h7M400.5 393v7M397 391.5h7M400.5 388v7M397 392.5h7M400.5 389v7M397 394.5h7M400.5 391v7M397 401.5h7M400.5 398v7M397 402.5h7M400.5 399v7M397 401.5h7M400.5 398v7M397 404.5h7M400.5 401v7M398 403.5h7M401.5 400v7M398 393.5h7M401.5 390v7M398 387.5h7M401.5 384v7M398 396.5h7M401.5 393v7M398 400.5h7M401.5 397v7M398 392.5h7M401.5 389v7M398 396.5h7M401.5 393v7M398 404.5h7M401.5 401v7M398 400.5h7M401.5 397v7M399 396.5h7M402.5 393v7M399 392.5h7M402.5 389v7M399 394.5h7M402.5 391v7M399 396.5h7M402.5 393v7M399 405.5h7M402.5 402v7M399 402.5h7M402.5 399v7M399 404.5h7M402.5 401v7M399 394.5h7M402.5 391v7M400 403.5h7M403.5 400v7M400 410.5h7M403.5 407v7M400 398.5h7M403.5 395v7M400 396.5h7M403.5 393v7M400 398.5h7M403.5 395v7M400 405.5h7M403.5 402v7M400 398.5h7M403.5 395v7M400 401.5h7M403.5 398v7M400 390.5h7M403.5 387v7M401 410.5h7M404.5 407v7M401 396.5h7M404.5 393v7M401 396.5h7M404.5 393v7M401 399.5h7M404.5 396v7M401 400.5h7M404.5 397v7M401 399.5h7M404.5 396v7M401 397.5h7M404.5 394v7M401 407.5h7M404.5 404v7M402 397.5h7M405.5 394v7M402 388.5h7M405.5 385v7M402 393.5h7M405.5 390v7M402 394.5h7M405.5 391v7M402 408.5h7M405.5 405v7M402 397.5h7M405.5 394v7M402 398.5h7M405.5 395v7M402 405.5h7M405.5 402v7M402 406.5h7M405.5 403v7M403 402.5h7M406.5 399v7M403 406.5h7M406.5 403v7M403 407.5h7M406.5 404v7M403 396.5h7M406.5 393v7M403 402.5h7M406.5 399v7M403 403.5h7M406.5 400v7M403 399.5h7M406.5 396v7M403 397.5h7M406.5 394v7M404 404.5h7M407.5 401v7M404 398.5h7M407.5 395v7M404 396.5h7M407.5 393v7M404 407.5h7M407.5 404v7M404 402.5h7M407.5 399v7M404 406.5h7M407.5 403v7M404 399.5h7M407.5 396v7M404 403.5h7M407.5 400v7M404 395.5h7M407.5 392v7M405 408.5h7M408.5 405v7M405 400.5h7M408.5 397v7M405 391.5h7M408.5 388v7M405 402.5h7M408.5 399v7M405 402.5h7M408.5 399v7M405 408.5h7M408.5 405v7M405 407.5h7M408.5 404v7M405 403.5h7M408.5 400v7M406 405.5h7M409.5 402v7M406 398.5h7M409.5 395v7M406 403.5h7M409.5 400v7M406 398.5h7M409.5 395v7M406 401.5h7M409.5 398v7M406 401.5h7M409.5 398v7M406 408.5h7M409.5 405v7M406 405.5h7M409.5 402v7M406 398.5h7M409.5 395v7M407 398.5h7M410.5 395v7M407 404.5h7M410.5 401v7M407 402.5h7M410.5 399v7M407 403.5h7M410.5 400v7M407 406.5h7M410.5 403v7M407 404.5h7M410.5 401v7M407 401.5h7M410.5 398v7M407 405.5h7M410.5 402v7M408 401.5h7M411.5 398v7M408 407.5h7M411.5 404v7M408 407.5h7M411.5 404v7M408 399.5h7M411.5 396v7M408 399.5h7M411.5 396v7M408 405.5h7M411.5 402v7M408 400.5h7M411.5 397v7M408 400.5h7M411.5 397v7M408 397.5h7M411.5 394v7M409 394.5h7M412.5 391v7M409 396.5h7M412.5 393v7M409 408.5h7M412.5 405v7M409 403.5h7M412.5 400v7M409 402.5h7M412.5 399v7M409 401.5h7M412.5 398v7M409 398.5h7M412.5 395v7M409 405.5h7M412.5 402v7M410 405.5h7M413.5 402v7M410 402.5h7M413.5 399v7M410 397.5h7M413.5 394v7M410 398.5h7M413.5 395v7M410 404.5h7M413.5 401v7M410 409.5h7M413.5 406v7M410 401.5h7M413.5 398v7M410 407.5h7M413.5 404v7M410 405.5h7M413.5 402v7M411 406.5h7M414.5 403v7M411 404.5h7M414.5 401v7M411 405.5h7M414.5 402v7M411 405.5h7M414.5 402v7M411 395.5h7M414.5 392v7M411 395.5h7M414.5 392v7M411 402.5h7M414.5 399v7M411 393.5h7M414.5 390v7M412 396.5h7M415.5 393v7M412 400.5h7M415.5 397v7M412 400.5h7M415.5 397v7M412 401.5h7M415.5 398v7M412 409.5h7M415.5 406v7M412 402.5h7M415.5 399v7M412 397.5h7M415.5 394v7M412 410.5h7M415.5 407v7M413 400.5h7M416.5 397v7M413 404.5h7M416.5 401v7M413 408.5h7M416.5 405v7M413 406.5h7M416.5 403v7M413 413.5h7M416.5 410v7M413 401.5h7M416.5 398v7M413 398.5h7M416.5 395v7M413 401.5h7M416.5 398v7M413 401.5h7M416.5 398v7M414 408.5h7M417.5 405v7M414 407.5h7M417.5 404v7M414 401.5h7M417.5 398v7M414 400.5h7M417.5 397v7M414 408.5h7M417.5 405v7M414 406.5h7M417.5 403v7M414 406.5h7M417.5 403v7M414 410.5h7M417.5 407v7M415 402.5h7M418.5 399v7M415 413.5h7M418.5 410v7M415 410.5h7M418.5 407v7M415 402.5h7M418.5 399v7M415 404.5h7M418.5 401v7M415 402.5h7M418.5 399v7M415 412.5h7M418.5 409v7M415 403.5h7M418.5 400v7M415 406.5h7M418.5 403v7M416 408.5h7M419.5 405v7M416 401.5h7M419.5 398v7M416 404.5h7M419.5 401v7M416 402.5h7M419.5 399v7M416 403.5h7M419.5 400v7M416 414.5h7M419.5 411v7M416 403.5h7M419.5 400v7M416 407.5h7M419.5 404v7M417 410.5h7M420.5 407v7M417 399.5h7M420.5 396v7M417 410.5h7M420.5 407v7M417 407.5h7M420.5 404v7M417 408.5h7M420.5 405v7M417 407.5h7M420.5 404v7M417 407.5h7M420.5 404v7M417 409.5h7M420.5 406v7M417 414.5h7M420.5 411v7M418 403.5h7M421.5 400v7M418 402.5h7M421.5 399v7M418 406.5h7M421.5 403v7M418 410.5h7M421.5 407v7M418 412.5h7M421.5 409v7M418 405.5h7M421.5 402v7M418 408.5h7M421.5 405v7M418 398.5h7M421.5 395v7M419 408.5h7M422.5 405v7M419 408.5h7M422.5 405v7M419 407.5h7M422.5 404v7M419 412.5h7M422.5 409v7M419 402.5h7M422.5 399v7M419 400.5h7M422.5 397v7M419 407.5h7M422.5 404v7M419 405.5h7M422.5 402v7M419 404.5h7M422.5 401v7M420 407.5h7M423.5 404v7M420 403.5h7M423.5 400v7M420 408.5h7M423.5 405v7M420 407.5h7M423.5 404v7M420 403.5h7M423.5 400v7M420 402.5h7M423.5 399v7M420 411.5h7M423.5 408v7M420 411.5h7M423.5 408v7M421 399.5h7M424.5 396v7M421 408.5h7M424.5 405v7M421 408.5h7M424.5 405v7M421 407.5h7M424.5 404v7M421 400.5h7M424.5 397v7M421 402.5h7M424.5 399v7M421 409.5h7M424.5 406v7M421 408.5h7M424.5 405v7M421 409.5h7M424.5 406v7M422 399.5h7M425.5 396v7M422 406.5h7M425.5 403v7M422 409.5h7M425.5 406v7M422 406.5h7M425.5 403v7M422 408.5h7M425.5 405v7M422 410.5h7M425.5 407v7M422 411.5h7M425.5 408v7M422 408.5h7M425.5 405v7M423 404.5h7M426.5 401v7M423 405.5h7M426.5 402v7M423 408.5h7M426.5 405v7M423 403.5h7M426.5 400v7M423 406.5h7M426.5 403v7M423 408.5h7M426.5 405v7M423 404.5h7M426.5 401v7M423 412.5h7M426.5 409v7M423 408.5h7M426.5 405v7M424 410.5h7M427.5 407v7M424 412.5h7M427.5 409v7M424 404.5h7M427.5 401v7M424 412.5h7M427.5 409v7M424 408.5h7M427.5 405v7M424 411.5h7M427.5 408v7M424 406.5h7M427.5 403v7M424 398.5h7M427.5 395v7M425 408.5h7M428.5 405v7M425 409.5h7M428.5 406v7M425 405.5h7M428.5 402v7M425 413.5h7M428.5 410v7M425 407.5h7M428.5 404v7M425 404.5h7M428.5 401v7M425 409.5h7M428.5 406v7M425 408.5h7M428.5 405v7M425 408.5h7M428.5 405v7M426 412.5h7M429.5 409v7M426 406.5h7M429.5 403v7M426 414.5h7M429.5 411v7M426 412.5h7M429.5 409v7M426 407.5h7M429.5 404v7M426 403.5h7M429.5 400v7M426 406.5h7M429.5 403v7M426 411.5h7M429.5 408v7M427 410.5h7M430.5 407v7M427 407.5h7M430.5 404v7M427 408.5h7M430.5 405v7M427 410.5h7M430.5 407v7M427 409.5h7M430.5 406v7M427 405.5h7M430.5 402v7M427 405.5h7M430.5 402v7M427 410.5h7M430.5 407v7M427 402.5h7M430.5 399v7M428 412.5h7M431.5 409v7M428 406.5h7M431.5 403v7M428 414.5h7M431.5 411v7M428 407.5h7M431.5 404v7M428 405.5h7M431.5 402v7M428 404.5h7M431.5 401v7M428 409.5h7M431.5 406v7M428 414.5h7M431.5 411v7M429 406.5h7M432.5 403v7M429 407.5h7M432.5 404v7M429 409.5h7M432.5 406v7M429 410.5h7M432.5 407v7M429 411.5h7M432.5 408v7M429 408.5h7M432.5 405v7M429 410.5h7M432.5 407v7M429 414.5h7M432.5 411v7M429 407.5h7M432.5 404v7M430 408.5h7M433.5 405v7M430 414.5h7M433.5 411v7M430 408.5h7M433.5 405v7M430 413.5h7M433.5 410v7M430 407.5h7M433.5 404v7M430 411.5h7M433.5 408v7M430 407.5h7M433.5 404v7M430 407.5h7M433.5 404v7M431 413.5h7M434.5 410v7M431 405.5h7M434.5 402v7M431 410.5h7M434.5 407v7M431 408.5h7M434.5 405v7M431 412.5h7M434.5 409v7M431 409.5h7M434.5 406v7M431 409.5h7M434.5 406v7M431 400.5h7M434.5 397v7M432 406.5h7M435.5 403v7M432 408.5h7M435.5 405v7M432 413.5h7M435.5 410v7M432 410.5h7M435.5 407v7M432 404.5h7M435.5 401v7M432 413.5h7M435.5 410v7M432 404.5h7M435.5 401v7M432 408.5h7M435.5 405v7M432 406.5h7M435.5 403v7M433 409.5h7M436.5 406v7M433 410.5h7M436.5 407v7M433 409.5h7M436.5 406v7M433 408.5h7M436.5 405v7M433 411.5h7M436.5 408v7M433 399.5h7M436.5 396v7M433 402.5h7M436.5 399v7M433 409.5h7M436.5 406v7M434 404.5h7M437.5 401v7M434 407.5h7M437.5 404v7M434 407.5h7M437.5 404v7M434 403.5h7M437.5 400v7M434 411.5h7M437.5 408v7M434 403.5h7M437.5 400v7M434 409.5h7M437.5 406v7M434 408.5h7M437.5 405v7M434 410.5h7M437.5 407v7M435 407.5h7M438.5 404v7M435 412.5h7M438.5 409v7M435 411.5h7M438.5 408v7M435 411.5h7M438.5 408v7M435 413.5h7M438.5 410v7M435 412.5h7M438.5 409v7M435 414.5h7M438.5 411v7M435 402.5h7M438.5 399v7M436 404.5h7M439.5 401v7M436 406.5h7M439.5 403v7M436 407.5h7M439.5 404v7M436 411.5h7M439.5 408v7M436 412.5h7M439.5 409v7M436 410.5h7M439.5 407v7M436 411.5h7M439.5 408v7M436 415.5h7M439.5 412v7M436 409.5h7M439.5 406v7M437 414.5h7M440.5 411v7M437 410.5h7M440.5 407v7M437 411.5h7M440.5 408v7M437 411.5h7M440.5 408v7M437 407.5h7M440.5 404v7M437 413.5h7M440.5 410v7M437 410.5h7M440.5 407v7M437 408.5h7M440.5 405v7M438 408.5h7M441.5 405v7M438 404.5h7M441.5 401v7M438 414.5h7M441.5 411v7M438 409.5h7M441.5 406v7M438 408.5h7M441.5 405v7M438 413.5h7M441.5 410v7M438 407.5h7M441.5 404v7M438 406.5h7M441.5 403v7M438 413.5h7M441.5 410v7M439 409.5h7M442.5 406v7M439 410.5h7M442.5 407v7M439 410.5h7M442.5 407v7M439 408.5h7M442.5 405v7M439 406.5h7M442.5 403v7M439 412.5h7M442.5 409v7M439 405.5h7M442.5 402v7M439 410.5h7M442.5 407v7M440 405.5h7M443.5 402v7M440 411.5h7M443.5 408v7M440 412.5h7M443.5 409v7M440 412.5h7M443.5 409v7M440 407.5h7M443.5 404v7M440 408.5h7M443.5 405v7M440 409.5h7M443.5 406v7M440 408.5h7M443.5 405v7M440 404.5h7M443.5 401v7M441 410.5h7M444.5 407v7M441 411.5h7M444.5 408v7M441 407.5h7M444.5 404v7M441 412.5h7M444.5 409v7M441 409.5h7M444.5 406v7M441 408.5h7M444.5 405v7M441 409.5h7M444.5 406v7M441 412.5h7M444.5 409v7M442 414.5h7M445.5 411v7M442 407.5h7M445.5 404v7M442 410.5h7M445.5 407v7M442 404.5h7M445.5 401v7M442 409.5h7M445.5 406v7M442 407.5h7M445.5 404v7M442 408.5h7M445.5 405v7M442 407.5h7M445.5 404v7M442 408.5h7M445.5 405v7M443 408.5h7M446.5 405v7M443 408.5h7M446.5 405v7M443 411.5h7M446.5 408v7M443 408.5h7M446.5 405v7M443 405.5h7M446.5 402v7M443 411.5h7M446.5 408v7M443 411.5h7M446.5 408v7M443 405.5h7M446.5 402v7M444 409.5h7M447.5 406v7M444 403.5h7M447.5 400v7M444 414.5h7M447.5 411v7M444 404.5h7M447.5 401v7M444 414.5h7M447.5 411v7M444 409.5h7M447.5 406v7M444 410.5h7M447.5 407v7M444 409.5h7M447.5 406v7M444 408.5h7M447.5 405v7M445 408.5h7M448.5 405v7M445 410.5h7M448.5 407v7M445 402.5h7M448.5 399v7M445 412.5h7M448.5 409v7M445 408.5h7M448.5 405v7M445 406.5h7M448.5 403v7M445 412.5h7M448.5 409v7M445 409.5h7M448.5 406v7M446 407.5h7M449.5 404v7M446 408.5h7M449.5 405v7M446 407.5h7M449.5 404v7M446 407.5h7M449.5 404v7M446 403.5h7M449.5 400v7M446 405.5h7M449.5 402v7M446 408.5h7M449.5 405v7M446 411.5h7M449.5 408v7M446 414.5h7M449.5 411v7M447 406.5h7M450.5 403v7M447 405.5h7M450.5 402v7M447 407.5h7M450.5 404v7M447 407.5h7M450.5 404v7M447 405.5h7M450.5 402v7M447 409.5h7M450.5 406v7M447 413.5h7M450.5 410v7M447 409.5h7M450.5 406v7M448 408.5h7M451.5 405v7M448 411.5h7M451.5 408v7M448 411.5h7M451.5 408v7M448 412.5h7M451.5 409v7M448 405.5h7M451.5 402v7M448 406.5h7M451.5 403v7M448 399.5h7M451.5 396v7M448 411.5h7M451.5 408v7M448 406.5h7M451.5 403v7M449 411.5h7M452.5 408v7M449 414.5h7M452.5 411v7M449 409.5h7M452.5 406v7M449 405.5h7M452.5 402v7M449 410.5h7M452.5 407v7M449 412.5h7M452.5 409v7M449 409.5h7M452.5 406v7M449 406.5h7M452.5 403v7M450 404.5h7M453.5 401v7M450 405.5h7M453.5 402v7M450 410.5h7M453.5 407v7M450 403.5h7M453.5 400v7M450 407.5h7M453.5 404v7M450 405.5h7M453.5 402v7M450 405.5h7M453.5 402v7M450 413.5h7M453.5 410v7M451 405.5h7M454.5 402v7M451 405.5h7M454.5 402v7M451 413.5h7M454.5 410v7M451 402.5h7M454.5 399v7M451 403.5h7M454.5 400v7M451 401.5h7M454.5 398v7M451 403.5h7M454.5 400v7M451 408.5h7M454.5 405v7M451 412.5h7M454.5 409v7M452 404.5h7M455.5 401v7M452 400.5h7M455.5 397v7M452 409.5h7M455.5 406v7M452 398.5h7M455.5 395v7M452 407.5h7M455.5 404v7M452 401.5h7M455.5 398v7M452 408.5h7M455.5 405v7M452 403.5h7M455.5 400v7M453 409.5h7M456.5 406v7M453 408.5h7M456.5 405v7M453 406.5h7M456.5 403v7M453 404.5h7M456.5 401v7M453 404.5h7M456.5 401v7M453 411.5h7M456.5 408v7M453 405.5h7M456.5 402v7M453 396.5h7M456.5 393v7M453 404.5h7M456.5 401v7M454 405.5h7M457.5 402v7M454 402.5h7M457.5 399v7M454 406.5h7M457.5 403v7M454 403.5h7M457.5 400v7M454 406.5h7M457.5 403v7M454 409.5h7M457.5 406v7M454 402.5h7M457.5 399v7M454 408.5h7M457.5 405v7M455 403.5h7M458.5 400v7M455 400.5h7M458.5 397v7M455 400.5h7M458.5 397v7M455 403.5h7M458.5 400v7M455 404.5h7M458.5 401v7M455 404.5h7M458.5 401v7M455 402.5h7M458.5 399v7M455 402.5h7M458.5 399v7M455 401.5h7M458.5 398v7M456 409.5h7M459.5 406v7M456 409.5h7M459.5 406v7M456 402.5h7M459.5 399v7M456 397.5h7M459.5 394v7M456 405.5h7M459.5 402v7M456 400.5h7M459.5 397v7M456 397.5h7M459.5 394v7M456 406.5h7M459.5 403v7M457 406.5h7M460.5 403v7M457 404.5h7M460.5 401v7M457 410.5h7M460.5 407v7M457 399.5h7M460.5 396v7M457 403.5h7M460.5 400v7M457 397.5h7M460.5 394v7M457 396.5h7M460.5 393v7M457 404.5h7M460.5 401v7M457 398.5h7M460.5 395v7M458 395.5h7M461.5 392v7M458 405.5h7M461.5 402v7M458 408.5h7M461.5 405v7M458 400.5h7M461.5 397v7M458 401.5h7M461.5 398v7M458 398.5h7M461.5 395v7M458 404.5h7M461.5 401v7M458 402.5h7M461.5 399v7M459 402.5h7M462.5 399v7M459 396.5h7M462.5 393v7M459 390.5h7M462.5 387v7M459 404.5h7M462.5 401v7M459 403.5h7M462.5 400v7M459 394.5h7M462.5 391v7M459 395.5h7M462.5 392v7M459 402.5h7M462.5 399v7M459 398.5h7M462.5 395v7M460 397.5h7M463.5 394v7M460 400.5h7M463.5 397v7M460 401.5h7M463.5 398v7M460 400.5h7M463.5 397v7M460 395.5h7M463.5 392v7M460 400.5h7M463.5 397v7M460 402.5h7M463.5 399v7M460 398.5h7M463.5 395v7M461 390.5h7M464.5 387v7M461 398.5h7M464.5 395v7M461 390.5h7M464.5 387v7M461 390.5h7M464.5 387v7M461 394.5h7M464.5 391v7M461 390.5h7M464.5 387v7M461 390.5h7M464.5 387v7M461 384.5h7M464.5 381v7M461 382.5h7M464.5 379v7M462 393.5h7M465.5 390v7M462 385.5h7M465.5 382v7M462 400.5h7M465.5 397v7M462 394.5h7M465.5 391v7M462 393.5h7M465.5 390v7M462 392.5h7M465.5 389v7M462 388.5h7M465.5 385v7M462 391.5h7M465.5 388v7M463 400.5h7M466.5 397v7M463 402.5h7M466.5 399v7M463 387.5h7M466.5 384v7M463 385.5h7M466.5 382v7M463 394.5h7M466.5 391v7M463 378.5h7M466.5 375v7M463 385.5h7M466.5 382v7M463 395.5h7M466.5 392v7M463 398.5h7M466.5 395v7M464 388.5h7M467.5 385v7M464 387.5h7M467.5 384v7M464 391.5h7M467.5 388v7M464 390.5h7M467.5 387v7M464 396.5h7M467.5 393v7M464 391.5h7M467.5 388v7M464 395.5h7M467.5 392v7M464 386.5h7M467.5 383v7M465 401.5h7M468.5 398v7M465 394.5h7M468.5 391v7M465 396.5h7M468.5 393v7M465 393.5h7M468.5 390v7M465 389.5h7M468.5 386v7M465 397.5h7M468.5 394v7M465 395.5h7M468.5 392v7M465 378.5h7M468.5 375v7M465 384.5h7M468.5 381v7M466 390.5h7M469.5 387v7M466 389.5h7M469.5 386v7M466 385.5h7M469.5 382v7M466 396.5h7M469.5 393v7M466 386.5h7M469.5 383v7M466 381.5h7M469.5 378v7M466 395.5h7M469.5 392v7M466 380.5h7M469.5 377v7M467 387.5h7M470.5 384v7M467 388.5h7M470.5 385v7M467 378.5h7M470.5 375v7M467 385.5h7M470.5 382v7M467 381.5h7M470.5 378v7M467 383.5h7M470.5 380v7M467 393.5h7M470.5 390v7M467 368.5h7M470.5 365v7M467 387.5h7M470.5 384v7M468 387.5h7M471.5 384v7M468 391.5h7M471.5 388v7M468 389.5h7M471.5 386v7M468 380.5h7M471.5 377v7M468 382.5h7M471.5 379v7M468 384.5h7M471.5 381v7M468 391.5h7M471.5 388v7M468 386.5h7M471.5 383v7M469 393.5h7M472.5 390v7M469 390.5h7M472.5 387v7M469 386.5h7M472.5 383v7M469 391.5h7M472.5 388v7M469 381.5h7M472.5 378v7M469 389.5h7M472.5 386v7M469 382.5h7M472.5 379v7M469 391.5h7M472.5 388v7M469 375.5h7M472.5 372v7M470 377.5h7M473.5 374v7M470 389.5h7M473.5 386v7M470 377.5h7M473.5 374v7M470 383.5h7M473.5 380v7M470 380.5h7M473.5 377v7M470 375.5h7M473.5 372v7M470 383.5h7M473.5 380v7M470 388.5h7M473.5 385v7M471 389.5h7M474.5 386v7M471 390.5h7M474.5 387v7M471 388.5h7M474.5 385v7M471 389.5h7M474.5 386v7M471 389.5h7M474.5 386v7M471 390.5h7M474.5 387v7M471 382.5h7M474.5 379v7M471 382.5h7M474.5 379v7M472 382.5h7M475.5 379v7M472 391.5h7M475.5 388v7M472 388.5h7M475.5 385v7M472 383.5h7M475.5 380v7M472 391.5h7M475.5 388v7M472 391.5h7M475.5 388v7M472 393.5h7M475.5 390v7M472 393.5h7M475.5 390v7M472 383.5h7M475.5 380v7M473 391.5h7M476.5 388v7M473 390.5h7M476.5 387v7M473 393.5h7M476.5 390v7M473 387.5h7M476.5 384v7M473 396.5h7M476.5 393v7M473 376.5h7M476.5 373v7M473 389.5h7M476.5 386v7M473 382.5h7M476.5 379v7M474 391.5h7M477.5 388v7M474 391.5h7M477.5 388v7M474 383.5h7M477.5 380v7M474 394.5h7M477.5 391v7M474 396.5h7M477.5 393v7M474 383.5h7M477.5 380v7M474 382.5h7M477.5 379v7M474 392.5h7M477.5 389v7M474 392.5h7M477.5 389v7M475 389.5h7M478.5 386v7M475 390.5h7M478.5 387v7M475 383.5h7M478.5 380v7M475 391.5h7M478.5 388v7M475 395.5h7M478.5 392v7M475 390.5h7M478.5 387v7M475 398.5h7M478.5 395v7M475 400.5h7M478.5 397v7M476 392.5h7M479.5 389v7M476 394.5h7M479.5 391v7M476 394.5h7M479.5 391v7M476 394.5h7M479.5 391v7M476 397.5h7M479.5 394v7M476 394.5h7M479.5 391v7M476 390.5h7M479.5 387v7M476 391.5h7M479.5 388v7M476 390.5h7M479.5 387v7M477 391.5h7M480.5 388v7M477 400.5h7M480.5 397v7M477 395.5h7M480.5 392v7M477 400.5h7M480.5 397v7M477 394.5h7M480.5 391v7M477 394.5h7M480.5 391v7M477 393.5h7M480.5 390v7M477 399.5h7M480.5 396v7M478 395.5h7M481.5 392v7M478 382.5h7M481.5 379v7M478 401.5h7M481.5 398v7M478 394.5h7M481.5 391v7M478 394.5h7M481.5 391v7M478 401.5h7M481.5 398v7M478 397.5h7M481.5 394v7M478 400.5h7M481.5 397v7M478 401.5h7M481.5 398v7M479 385.5h7M482.5 382v7M479 396.5h7M482.5 393v7M479 395.5h7M482.5 392v7M479 393.5h7M482.5 390v7M479 399.5h7M482.5 396v7M479 398.5h7M482.5 395v7M479 404.5h7M482.5 401v7M479 403.5h7M482.5 400v7M480 398.5h7M483.5 395v7M480 405.5h7M483.5 402v7M480 390.5h7M483.5 387v7M480 404.5h7M483.5 401v7M480 392.5h7M483.5 389v7M480 394.5h7M483.5 391v7M480 398.5h7M483.5 395v7M480 400.5h7M483.5 397v7M480 397.5h7M483.5 394v7M481 395.5h7M484.5 392v7M481 404.5h7M484.5 401v7M481 395.5h7M484.5 392v7M481 395.5h7M484.5 392v7M481 402.5h7M484.5 399v7M481 397.5h7M484.5 394v7M481 397.5h7M484.5 394v7M481 396.5h7M484.5 393v7M482 392.5h7M485.5 389v7M482 400.5h7M485.5 397v7M482 400.5h7M485.5 397v7M482 402.5h7M485.5 399v7M482 406.5h7M485.5 403v7M482 402.5h7M485.5 399v7M482 401.5h7M485.5 398v7M482 402.5h7M485.5 399v7M482 396.5h7M485.5 393v7M483 404.5h7M486.5 401v7M483 403.5h7M486.5 400v7M483 401.5h7M486.5 398v7M483 409.5h7M486.5 406v7M483 399.5h7M486.5 396v7M483 404.5h7M486.5 401v7M483 403.5h7M486.5 400v7M483 399.5h7M486.5 396v7M484 400.5h7M487.5 397v7M484 402.5h7M487.5 399v7M484 402.5h7M487.5 399v7M484 405.5h7M487.5 402v7M484 398.5h7M487.5 395v7M484 402.5h7M487.5 399v7M484 404.5h7M487.5 401v7M484 404.5h7M487.5 401v7M484 409.5h7M487.5 406v7M485 410.5h7M488.5 407v7M485 412.5h7M488.5 409v7M485 403.5h7M488.5 400v7M485 403.5h7M488.5 400v7M485 408.5h7M488.5 405v7M485 404.5h7M488.5 401v7M485 405.5h7M488.5 402v7M485 406.5h7M488.5 403v7M486 409.5h7M489.5 406v7M486 406.5h7M489.5 403v7M486 404.5h7M489.5 401v7M486 411.5h7M489.5 408v7M486 408.5h7M489.5 405v7M486 410.5h7M489.5 407v7M486 403.5h7M489.5 400v7M486 405.5h7M489.5 402v7M486 406.5h7M489.5 403v7M487 406.5h7M490.5 403v7M487 404.5h7M490.5 401v7M487 404.5h7M490.5 401v7M487 401.5h7M490.5 398v7M487 407.5h7M490.5 404v7M487 399.5h7M490.5 396v7M487 406.5h7M490.5 403v7M487 412.5h7M490.5 409v7M488 405.5h7M491.5 402v7M488 406.5h7M491.5 403v7M488 409.5h7M491.5 406v7M488 412.5h7M491.5 409v7M488 411.5h7M491.5 408v7M488 408.5h7M491.5 405v7M488 407.5h7M491.5 404v7M488 416.5h7M491.5 413v7M488 409.5h7M491.5 406v7M489 410.5h7M492.5 407v7M489 402.5h7M492.5 399v7M489 406.5h7M492.5 403v7M489 407.5h7M492.5 404v7M489 410.5h7M492.5 407v7M489 410.5h7M492.5 407v7M489 414.5h7M492.5 411v7M489 401.5h7M492.5 398v7M490 406.5h7M493.5 403v7M490 406.5h7M493.5 403v7M490 404.5h7M493.5 401v7M490 406.5h7M493.5 403v7M490 410.5h7M493.5 407v7M490 407.5h7M493.5 404v7M490 407.5h7M493.5 404v7M490 410.5h7M493.5 407v7M491 407.5h7M494.5 404v7M491 405.5h7M494.5 402v7M491 406.5h7M494.5 403v7M491 410.5h7M494.5 407v7M491 412.5h7M494.5 409v7M491 413.5h7M494.5 410v7M491 404.5h7M494.5 401v7M491 407.5h7M494.5 404v7M491 411.5h7M494.5 408v7M492 411.5h7M495.5 408v7M492 414.5h7M495.5 411v7M492 410.5h7M495.5 407v7M492 412.5h7M495.5 409v7M492 410.5h7M495.5 407v7M492 410.5h7M495.5 407v7M492 408.5h7M495.5 405v7M492 412.5h7M495.5 409v7M493 407.5h7M496.5 404v7M493 411.5h7M496.5 408v7M493 408.5h7M496.5 405v7M493 408.5h7M496.5 405v7M493 406.5h7M496.5 403v7M493 407.5h7M496.5 404v7M493 406.5h7M496.5 403v7M493 411.5h7M496.5 408v7M493 404.5h7M496.5 401v7M494 405.5h7M497.5 402v7M494 415.5h7M497.5 412v7M494 408.5h7M497.5 405v7M494 412.5h7M497.5 409v7M494 410.5h7M497.5 407v7M494 414.5h7M497.5 411v7M494 403.5h7M497.5 400v7M494 414.5h7M497.5 411v7M495 408.5h7M498.5 405v7M495 407.5h7M498.5 404v7M495 408.5h7M498.5 405v7M495 412.5h7M498.5 409v7M495 409.5h7M498.5 406v7M495 410.5h7M498.5 407v7M495 410.5h7M498.5 407v7M495 408.5h7M498.5 405v7M495 409.5h7M498.5 406v7M496 409.5h7M499.5 406v7M496 407.5h7M499.5 404v7M496 407.5h7M499.5 404v7M496 410.5h7M499.5 407v7M496 411.5h7M499.5 408v7M496 411.5h7M499.5 408v7M496 412.5h7M499.5 409v7M496 406.5h7M499.5 403v7M497 404.5h7M500.5 401v7M497 404.5h7M500.5 401v7M497 411.5h7M500.5 408v7M497 411.5h7M500.5 408v7M497 411.5h7M500.5 408v7M497 411.5h7M500.5 408v7M497 411.5h7M500.5 408v7M497 410.5h7M500.5 407v7M497 407.5h7M500.5 404v7M498 410.5h7M501.5 407v7M498 407.5h7M501.5 404v7M498 413.5h7M501.5 410v7M498 407.5h7M501.5 404v7M498 408.5h7M501.5 405v7M498 407.5h7M501.5 404v7M498 409.5h7M501.5 406v7M498 408.5h7M501.5 405v7M499 410.5h7M502.5 407v7M499 410.5h7M502.5 407v7M499 412.5h7M502.5 409v7M499 411.5h7M502.5 408v7M499 409.5h7M502.5 406v7M499 414.5h7M502.5 411v7M499 412.5h7M502.5 409v7M499 409.5h7M502.5 406v7M499 411.5h7M502.5 408v7M500 410.5h7M503.5 407v7M500 413.5h7M503.5 410v7M500 413.5h7M503.5 410v7M500 410.5h7M503.5 407v7M500 409.5h7M503.5 406v7M500 408.5h7M503.5 405v7M500 414.5h7M503.5 411v7M500 413.5h7M503.5 410v7M501 408.5h7M504.5 405v7M501 409.5h7M504.5 406v7M501 414.5h7M504.5 411v7M501 409.5h7M504.5 406v7M501 413.5h7M504.5 410v7M501 412.5h7M504.5 409v7M501 411.5h7M504.5 408v7M501 411.5h7M504.5 408v7M501 410.5h7M504.5 407v7M502 411.5h7M505.5 408v7M502 414.5h7M505.5 411v7M502 413.5h7M505.5 410v7M502 410.5h7M505.5 407v7M502 408.5h7M505.5 405v7M502 411.5h7M505.5 408v7M502 412.5h7M505.5 409v7M502 406.5h7M505.5 403v7M503 408.5h7M506.5 405v7M503 412.5h7M506.5 409v7M503 414.5h7M506.5 411v7M503 409.5h7M506.5 406v7M503 412.5h7M506.5 409v7M503 415.5h7M506.5 412v7M503 410.5h7M506.5 407v7M503 411.5h7M506.5 408v7M503 407.5h7M506.5 404v7M504 407.5h7M507.5 404v7M504 410.5h7M507.5 407v7M504 408.5h7M507.5 405v7M504 409.5h7M507.5 406v7M504 414.5h7M507.5 411v7M504 415.5h7M507.5 412v7M504 412.5h7M507.5 409v7M504 411.5h7M507.5 408v7M505 409.5h7M508.5 406v7M505 412.5h7M508.5 409v7M505 408.5h7M508.5 405v7M505 410.5h7M508.5 407v7M505 405.5h7M508.5 402v7M505 409.5h7M508.5 406v7M505 406.5h7M508.5 403v7M505 406.5h7M508.5 403v7M505 414.5h7M508.5 411v7M506 415.5h7M509.5 412v7M506 411.5h7M509.5 408v7M506 412.5h7M509.5 409v7M506 413.5h7M509.5 410v7M506 413.5h7M509.5 410v7M506 411.5h7M509.5 408v7M506 410.5h7M509.5 407v7M506 413.5h7M509.5 410v7M507 409.5h7M510.5 406v7M507 410.5h7M510.5 407v7M507 412.5h7M510.5 409v7M507 416.5h7M510.5 413v7M507 412.5h7M510.5 409v7M507 410.5h7M510.5 407v7M507 409.5h7M510.5 406v7M507 409.5h7M510.5 406v7M507 412.5h7M510.5 409v7M508 410.5h7M511.5 407v7M508 412.5h7M511.5 409v7M508 409.5h7M511.5 406v7M508 416.5h7M511.5 413v7M508 412.5h7M511.5 409v7M508 411.5h7M511.5 408v7M508 409.5h7M511.5 406v7M508 411.5h7M511.5 408v7M509 412.5h7M512.5 409v7M509 412.5h7M512.5 409v7M509 416.5h7M512.5 413v7M509 413.5h7M512.5 410v7M509 410.5h7M512.5 407v7M509 413.5h7M512.5 410v7M509 411.5h7M512.5 408v7M509 413.5h7M512.5 410v7M510 417.5h7M513.5 414v7M510 410.5h7M513.5 407v7M510 413.5h7M513.5 410v7M510 408.5h7M513.5 405v7M510 411.5h7M513.5 408v7M510 409.5h7M513.5 406v7M510 415.5h7M513.5 412v7M510 411.5h7M513.5 408v7M510 413.5h7M513.5 410v7M511 417.5h7M514.5 414v7M511 409.5h7M514.5 406v7M511 417.5h7M514.5 414v7M511 413.5h7M514.5 410v7M511 410.5h7M514.5 407v7M511 415.5h7M514.5 412v7M511 412.5h7M514.5 409v7M511 409.5h7M514.5 406v7M512 410.5h7M515.5 407v7M512 413.5h7M515.5 410v7M512 415.5h7M515.5 412v7M512 411.5h7M515.5 408v7M512 412.5h7M515.5 409v7M512 410.5h7M515.5 407v7M512 405.5h7M515.5 402v7M512 407.5h7M515.5 404v7M512 410.5h7M515.5 407v7M513 412.5h7M516.5 409v7M513 408.5h7M516.5 405v7M513 413.5h7M516.5 410v7M513 413.5h7M516.5 410v7M513 413.5h7M516.5 410v7M513 405.5h7M516.5 402v7M513 414.5h7M516.5 411v7M513 409.5h7M516.5 406v7M514 415.5h7M517.5 412v7M514 410.5h7M517.5 407v7M514 414.5h7M517.5 411v7M514 412.5h7M517.5 409v7M514 411.5h7M517.5 408v7M514 413.5h7M517.5 410v7M514 412.5h7M517.5 409v7M514 404.5h7M517.5 401v7M514 416.5h7M517.5 413v7M515 404.5h7M518.5 401v7M515 415.5h7M518.5 412v7M515 408.5h7M518.5 405v7M515 409.5h7M518.5 406v7M515 413.5h7M518.5 410v7M515 408.5h7M518.5 405v7M515 415.5h7M518.5 412v7M515 410.5h7M518.5 407v7M516 412.5h7M519.5 409v7M516 406.5h7M519.5 403v7M516 410.5h7M519.5 407v7M516 409.5h7M519.5 406v7M516 412.5h7M519.5 409v7M516 411.5h7M519.5 408v7M516 414.5h7M519.5 411v7M516 413.5h7M519.5 410v7M516 416.5h7M519.5 413v7M517 415.5h7M520.5 412v7M517 412.5h7M520.5 409v7M517 413.5h7M520.5 410v7M517 413.5h7M520.5 410v7M517 413.5h7M520.5 410v7M517 412.5h7M520.5 409v7M517 412.5h7M520.5 409v7M517 413.5h7M520.5 410v7M518 413.5h7M521.5 410v7M518 414.5h7M521.5 411v7M518 410.5h7M521.5 407v7M518 411.5h7M521.5 408v7M518 414.5h7M521.5 411v7M518 413.5h7M521.5 410v7M518 411.5h7M521.5 408v7M518 412.5h7M521.5 409v7M518 409.5h7M521.5 406v7M519 409.5h7M522.5 406v7M519 408.5h7M522.5 405v7M519 408.5h7M522.5 405v7M519 409.5h7M522.5 406v7M519 410.5h7M522.5 407v7M519 411.5h7M522.5 408v7M519 410.5h7M522.5 407v7M519 414.5h7M522.5 411v7M520 414.5h7M523.5 411v7M520 407.5h7M523.5 404v7M520 413.5h7M523.5 410v7M520 412.5h7M523.5 409v7M520 411.5h7M523.5 408v7M520 407.5h7M523.5 404v7M520 410.5h7M523.5 407v7M520 413.5h7M523.5 410v7M520 414.5h7M523.5 411v7M521 410.5h7M524.5 407v7M521 416.5h7M524.5 413v7M521 413.5h7M524.5 410v7M521 412.5h7M524.5 409v7M521 411.5h7M524.5 408v7M521 411.5h7M524.5 408v7M521 418.5h7M524.5 415v7M521 412.5h7M524.5 409v7M522 409.5h7M525.5 406v7M522 414.5h7M525.5 411v7M522 414.5h7M525.5 411v7M522 414.5h7M525.5 411v7M522 414.5h7M525.5 411v7M522 405.5h7M525.5 402v7M522 409.5h7M525.5 406v7M522 418.5h7M525.5 415v7M522 416.5h7M525.5 413v7M523 412.5h7M526.5 409v7M523 411.5h7M526.5 408v7M523 412.5h7M526.5 409v7M523 407.5h7M526.5 404v7M523 412.5h7M526.5 409v7M523 409.5h7M526.5 406v7M523 409.5h7M526.5 406v7M523 414.5h7M526.5 411v7M524 415.5h7M527.5 412v7M524 415.5h7M527.5 412v7M524 410.5h7M527.5 407v7M524 410.5h7M527.5 407v7M524 414.5h7M527.5 411v7M524 416.5h7M527.5 413v7M524 413.5h7M527.5 410v7M524 415.5h7M527.5 412v7M524 413.5h7M527.5 410v7M525 404.5h7M528.5 401v7M525 412.5h7M528.5 409v7M525 410.5h7M528.5 407v7M525 412.5h7M528.5 409v7M525 414.5h7M528.5 411v7M525 411.5h7M528.5 408v7M525 413.5h7M528.5 410v7M525 411.5h7M528.5 408v7M526 413.5h7M529.5 410v7M526 416.5h7M529.5 413v7M526 411.5h7M529.5 408v7M526 416.5h7M529.5 413v7M526 416.5h7M529.5 413v7M526 417.5h7M529.5 414v7M526 412.5h7M529.5 409v7M526 414.5h7M529.5 411v7M526 412.5h7M529.5 409v7M527 416.5h7M530.5 413v7M527 415.5h7M530.5 412v7M527 409.5h7M530.5 406v7M527 413.5h7M530.5 410v7M527 411.5h7M530.5 408v7M527 412.5h7M530.5 409v7M527 415.5h7M530.5 412v7M527 414.5h7M530.5 411v7M528 411.5h7M531.5 408v7M528 411.5h7M531.5 408v7M528 415.5h7M531.5 412v7M528 414.5h7M531.5 411v7M528 411.5h7M531.5 408v7M528 410.5h7M531.5 407v7M528 414.5h7M531.5 411v7M528 413.5h7M531.5 410v7M529 411.5h7M532.5 408v7M529 412.5h7M532.5 409v7M529 412.5h7M532.5 409v7M529 413.5h7M532.5 410v7M529 416.5h7M532.5 413v7M529 412.5h7M532.5 409v7M529 414.5h7M532.5 411v7M529 412.5h7M532.5 409v7M529 416.5h7M532.5 413v7M530 414.5h7M533.5 411v7M530 413.5h7M533.5 410v7M530 411.5h7M533.5 408v7M530 416.5h7M533.5 413v7M530 412.5h7M533.5 409v7M530 418.5h7M533.5 415v7M530 410.5h7M533.5 407v7M530 413.5h7M533.5 410v7M531 412.5h7M534.5 409v7M531 412.5h7M534.5 409v7M531 413.5h7M534.5 410v7M531 413.5h7M534.5 410v7M531 417.5h7M534.5 414v7M531 412.5h7M534.5 409v7M531 415.5h7M534.5 412v7M531 413.5h7M534.5 410v7M531 411.5h7M534.5 408v7M532 410.5h7M535.5 407v7M532 414.5h7M535.5 411v7M532 416.5h7M535.5 413v7M532 415.5h7M535.5 412v7M532 410.5h7M535.5 407v7M532 409.5h7M535.5 406v7M532 411.5h7M535.5 408v7M532 412.5h7M535.5 409v7M533 414.5h7M536.5 411v7M533 414.5h7M536.5 411v7M533 408.5h7M536.5 405v7M533 416.5h7M536.5 413v7M533 411.5h7M536.5 408v7M533 411.5h7M536.5 408v7M533 415.5h7M536.5 412v7M533 410.5h7M536.5 407v7M533 415.5h7M536.5 412v7M534 413.5h7M537.5 410v7M534 414.5h7M537.5 411v7M534 414.5h7M537.5 411v7M534 415.5h7M537.5 412v7M534 415.5h7M537.5 412v7M534 413.5h7M537.5 410v7M534 415.5h7M537.5 412v7M534 415.5h7M537.5 412v7M535 408.5h7M538.5 405v7M535 416.5h7M538.5 413v7M535 414.5h7M538.5 411v7M535 413.5h7M538.5 410v7M535 414.5h7M538.5 411v7M535 413.5h7M538.5 410v7M535 413.5h7M538.5 410v7M535 411.5h7M538.5 408v7M535 415.5h7M538.5 412v7M536 409.5h7M539.5 406v7M536 415.5h7M539.5 412v7M536 411.5h7M539.5 408v7M536 413.5h7M539.5 410v7M536 410.5h7M539.5 407v7M536 417.5h7M539.5 414v7M536 414.5h7M539.5 411v7M536 417.5h7M539.5 414v7M537 412.5h7M540.5 409v7M537 416.5h7M540.5 413v7M537 412.5h7M540.5 409v7M537 415.5h7M540.5 412v7M537 415.5h7M540.5 412v7M537 415.5h7M540.5 412v7M537 417.5h7M540.5 414v7M537 413.5h7M540.5 410v7M537 414.5h7M540.5 411v7M538 414.5h7M541.5 411v7M538 415.5h7M541.5 412v7M538 414.5h7M541.5 411v7M538 411.5h7M541.5 408v7M538 413.5h7M541.5 410v7M538 412.5h7M541.5 409v7M538 413.5h7M541.5 410v7M538 415.5h7M541.5 412v7M539 412.5h7M542.5 409v7M539 416.5h7M542.5 413v7M539 414.5h7M542.5 411v7M539 413.5h7M542.5 410v7M539 412.5h7M542.5 409v7M539 417.5h7M542.5 414v7M539 415.5h7M542.5 412v7M539 417.5h7M542.5 414v7M539 417.5h7M542.5 414v7M540 415.5h7M543.5 412v7M540 411.5h7M543.5 408v7M540 417.5h7M543.5 414v7M540 412.5h7M543.5 409v7M540 412.5h7M543.5 409v7M540 413.5h7M543.5 410v7M540 416.5h7M543.5 413v7M540 414.5h7M543.5 411v7M541 413.5h7M544.5 410v7M541 415.5h7M544.5 412v7M541 414.5h7M544.5 411v7M541 414.5h7M544.5 411v7M541 412.5h7M544.5 409v7M541 412.5h7M544.5 409v7M541 413.5h7M544.5 410v7M541 417.5h7M544.5 414v7M541 417.5h7M544.5 414v7M542 411.5h7M545.5 408v7M542 418.5h7M545.5 415v7M542 410.5h7M545.5 407v7M542 412.5h7M545.5 409v7M542 410.5h7M545.5 407v7M542 412.5h7M545.5 409v7M542 416.5h7M545.5 413v7M542 415.5h7M545.5 412v7M543 414.5h7M546.5 411v7M543 416.5h7M546.5 413v7M543 417.5h7M546.5 414v7M543 413.5h7M546.5 410v7M543 413.5h7M546.5 410v7M543 418.5h7M546.5 415v7M543 417.5h7M546.5 414v7M543 414.5h7M546.5 411v7M543 415.5h7M546.5 412v7M544 417.5h7M547.5 414v7M544 416.5h7M547.5 413v7M544 414.5h7M547.5 411v7M544 413.5h7M547.5 410v7M544 417.5h7M547.5 414v7M544 415.5h7M547.5 412v7M544 415.5h7M547.5 412v7M544 415.5h7M547.5 412v7M545 413.5h7M548.5 410v7M545 412.5h7M548.5 409v7M545 415.5h7M548.5 412v7M545 411.5h7M548.5 408v7M545 414.5h7M548.5 411v7M545 417.5h7M548.5 414v7M545 415.5h7M548.5 412v7M545 415.5h7M548.5 412v7M545 414.5h7M548.5 411v7M546 415.5h7M549.5 412v7M546 414.5h7M549.5 411v7M546 414.5h7M549.5 411v7M546 410.5h7M549.5 407v7M546 414.5h7M549.5 411v7M546 413.5h7M549.5 410v7M546 413.5h7M549.5 410v7M546 415.5h7M549.5 412v7M547 410.5h7M550.5 407v7M547 414.5h7M550.5 411v7M547 416.5h7M550.5 413v7M547 412.5h7M550.5 409v7M547 417.5h7M550.5 414v7M547 416.5h7M550.5 413v7M547 414.5h7M550.5 411v7M547 412.5h7M550.5 409v7M547 417.5h7M550.5 414v7M548 413.5h7M551.5 410v7M548 412.5h7M551.5 409v7M548 416.5h7M551.5 413v7M548 412.5h7M551.5 409v7M548 412.5h7M551.5 409v7M548 418.5h7M551.5 415v7M548 413.5h7M551.5 410v7M548 413.5h7M551.5 410v7M549 414.5h7M552.5 411v7M549 416.5h7M552.5 413v7M549 414.5h7M552.5 411v7M549 408.5h7M552.5 405v7M549 416.5h7M552.5 413v7M549 414.5h7M552.5 411v7M549 415.5h7M552.5 412v7M549 414.5h7M552.5 411v7M550 416.5h7M553.5 413v7M550 415.5h7M553.5 412v7M550 416.5h7M553.5 413v7M550 415.5h7M553.5 412v7M550 416.5h7M553.5 413v7M550 416.5h7M553.5 413v7M550 416.5h7M553.5 413v7M550 407.5h7M553.5 404v7M550 417.5h7M553.5 414v7M551 412.5h7M554.5 409v7M551 415.5h7M554.5 412v7M551 416.5h7M554.5 413v7M551 412.5h7M554.5 409v7M551 415.5h7M554.5 412v7M551 412.5h7M554.5 409v7M551 416.5h7M554.5 413v7M551 410.5h7M554.5 407v7M552 416.5h7M555.5 413v7M552 414.5h7M555.5 411v7M552 416.5h7M555.5 413v7M552 414.5h7M555.5 411v7M552 413.5h7M555.5 410v7M552 415.5h7M555.5 412v7M552 411.5h7M555.5 408v7M552 413.5h7M555.5 410v7M552 413.5h7M555.5 410v7M553 415.5h7M556.5 412v7M553 412.5h7M556.5 409v7M553 417.5h7M556.5 414v7M553 416.5h7M556.5 413v7M553 416.5h7M556.5 413v7M553 413.5h7M556.5 410v7M553 414.5h7M556.5 411v7M553 414.5h7M556.5 411v7M554 415.5h7M557.5 412v7M554 414.5h7M557.5 411v7M554 416.5h7M557.5 413v7M554 417.5h7M557.5 414v7M554 413.5h7M557.5 410v7M554 414.5h7M557.5 411v7M554 414.5h7M557.5 411v7M554 411.5h7M557.5 408v7M554 414.5h7M557.5 411v7M555 413.5h7M558.5 410v7M555 414.5h7M558.5 411v7M555 417.5h7M558.5 414v7M555 416.5h7M558.5 413v7M555 414.5h7M558.5 411v7M555 415.5h7M558.5 412v7M555 415.5h7M558.5 412v7M555 414.5h7M558.5 411v7M556 416.5h7M559.5 413v7M556 415.5h7M559.5 412v7M556 417.5h7M559.5 414v7M556 413.5h7M559.5 410v7M556 414.5h7M559.5 411v7M556 415.5h7M559.5 412v7M556 414.5h7M559.5 411v7M556 412.5h7M559.5 409v7M556 414.5h7M559.5 411v7M557 415.5h7M560.5 412v7M557 417.5h7M560.5 414v7M557 415.5h7M560.5 412v7M557 417.5h7M560.5 414v7M557 414.5h7M560.5 411v7M557 410.5h7M560.5 407v7M557 415.5h7M560.5 412v7M557 418.5h7M560.5 415v7M558 412.5h7M561.5 409v7M558 418.5h7M561.5 415v7M558 413.5h7M561.5 410v7M558 417.5h7M561.5 414v7M558 416.5h7M561.5 413v7M558 412.5h7M561.5 409v7M558 417.5h7M561.5 414v7M558 410.5h7M561.5 407v7M558 415.5h7M561.5 412v7M559 415.5h7M562.5 412v7M559 413.5h7M562.5 410v7M559 418.5h7M562.5 415v7M559 413.5h7M562.5 410v7M559 415.5h7M562.5 412v7M559 417.5h7M562.5 414v7M559 412.5h7M562.5 409v7M559 418.5h7M562.5 415v7M560 413.5h7M563.5 410v7M560 417.5h7M563.5 414v7M560 413.5h7M563.5 410v7M560 415.5h7M563.5 412v7M560 413.5h7M563.5 410v7M560 417.5h7M563.5 414v7M560 415.5h7M563.5 412v7M560 413.5h7M563.5 410v7M560 413.5h7M563.5 410v7M561 412.5h7M564.5 409v7M561 415.5h7M564.5 412v7M561 416.5h7M564.5 413v7M561 415.5h7M564.5 412v7M561 415.5h7M564.5 412v7M561 417.5h7M564.5 414v7M561 416.5h7M564.5 413v7M561 416.5h7M564.5 413v7M562 412.5h7M565.5 409v7M562 417.5h7M565.5 414v7M562 411.5h7M565.5 408v7M562 414.5h7M565.5 411v7M562 417.5h7M565.5 414v7M562 415.5h7M565.5 412v7M562 417.5h7M565.5 414v7M562 414.5h7M565.5 411v7M562 416.5h7M565.5 413v7M563 416.5h7M566.5 413v7M563 418.5h7M566.5 415v7M563 418.5h7M566.5 415v7M563 418.5h7M566.5 415v7M563 416.5h7M566.5 413v7M563 416.5h7M566.5 413v7M563 414.5h7M566.5 411v7M563 414.5h7M566.5 411v7M564 413.5h7M567.5 410v7M564 415.5h7M567.5 412v7M564 414.5h7M567.5 411v7M564 416.5h7M567.5 413v7M564 416.5h7M567.5 413v7M564 415.5h7M567.5 412v7M564 416.5h7M567.5 413v7M564 417.5h7M567.5 414v7M564 417.5h7M567.5 414v7M565 414.5h7M568.5 411v7M565 414.5h7M568.5 411v7M565 415.5h7M568.5 412v7M565 418.5h7M568.5 415v7M565 413.5h7M568.5 410v7M565 417.5h7M568.5 414v7M565 415.5h7M568.5 412v7M565 414.5h7M568.5 411v7M566 415.5h7M569.5 412v7M566 417.5h7M569.5 414v7M566 417.5h7M569.5 414v7M566 412.5h7M569.5 409v7M566 414.5h7M569.5 411v7M566 415.5h7M569.5 412v7M566 413.5h7M569.5 410v7M566 415.5h7M569.5 412v7M566 415.5h7M569.5 412v7M567 415.5h7M570.5 412v7M567 414.5h7M570.5 411v7M567 417.5h7M570.5 414v7M567 417.5h7M570.5 414v7M567 414.5h7M570.5 411v7M567 413.5h7M570.5 410v7M567 415.5h7M570.5 412v7M567 414.5h7M570.5 411v7M568 416.5h7M571.5 413v7M568 414.5h7M571.5 411v7M568 417.5h7M571.5 414v7M568 416.5h7M571.5 413v7M568 415.5h7M571.5 412v7M568 412.5h7M571.5 409v7M568 413.5h7M571.5 410v7M568 414.5h7M571.5 411v7M569 417.5h7M572.5 414v7M569 416.5h7M572.5 413v7M569 417.5h7M572.5 414v7M569 418.5h7M572.5 415v7M569 418.5h7M572.5 415v7M569 415.5h7M572.5 412v7M569 413.5h7M572.5 410v7M569 411.5h7M572.5 408v7M569 415.5h7M572.5 412v7M570 418.5h7M573.5 415v7M570 417.5h7M573.5 414v7M570 414.5h7M573.5 411v7M570 414.5h7M573.5 411v7M570 415.5h7M573.5 412v7M570 417.5h7M573.5 414v7M570 414.5h7M573.5 411v7M570 416.5h7M573.5 413v7M571 418.5h7M574.5 415v7M571 416.5h7M574.5 413v7M571 418.5h7M574.5 415v7M571 414.5h7M574.5 411v7M571 416.5h7M574.5 413v7M571 417.5h7M574.5 414v7M571 417.5h7M574.5 414v7M571 410.5h7M574.5 407v7M571 418.5h7M574.5 415v7M572 415.5h7M575.5 412v7M572 415.5h7M575.5 412v7M572 416.5h7M575.5 413v7M572 411.5h7M575.5 408v7M572 413.5h7M575.5 410v7M572 414.5h7M575.5 411v7M572 417.5h7M575.5 414v7M572 414.5h7M575.5 411v7M573 415.5h7M576.5 412v7M573 417.5h7M576.5 414v7M573 416.5h7M576.5 413v7M573 418.5h7M576.5 415v7M573 418.5h7M576.5 415v7M573 414.5h7M576.5 411v7M573 415.5h7M576.5 412v7M573 417.5h7M576.5 414v7M573 419.5h7M576.5 416v7M574 416.5h7M577.5 413v7M574 414.5h7M577.5 411v7M574 419.5h7M577.5 416v7M574 417.5h7M577.5 414v7M574 416.5h7M577.5 413v7M574 416.5h7M577.5 413v7M574 415.5h7M577.5 412v7M574 418.5h7M577.5 415v7M575 418.5h7M578.5 415v7M575 415.5h7M578.5 412v7M575 417.5h7M578.5 414v7M575 414.5h7M578.5 411v7M575 415.5h7M578.5 412v7M575 416.5h7M578.5 413v7M575 416.5h7M578.5 413v7M575 416.5h7M578.5 413v7M575 416.5h7M578.5 413v7M576 418.5h7M579.5 415v7M576 418.5h7M579.5 415v7M576 415.5h7M579.5 412v7M576 414.5h7M579.5 411v7M576 412.5h7M579.5 409v7M576 413.5h7M579.5 410v7M576 419.5h7M579.5 416v7M576 416.5h7M579.5 413v7M577 413.5h7M580.5 410v7M577 417.5h7M580.5 414v7M577 415.5h7M580.5 412v7M577 415.5h7M580.5 412v7M577 418.5h7M580.5 415v7M577 415.5h7M580.5 412v7M577 410.5h7M580.5 407v7M577 413.5h7M580.5 410v7M577 413.5h7M580.5 410v7M578 417.5h7M581.5 414v7M578 416.5h7M581.5 413v7M578 413.5h7M581.5 410v7M578 415.5h7M581.5 412v7M578 415.5h7M581.5 412v7M578 419.5h7M581.5 416v7M578 418.5h7M581.5 415v7M578 415.5h7M581.5 412v7M579 412.5h7M582.5 409v7M579 417.5h7M582.5 414v7M579 413.5h7M582.5 410v7M579 416.5h7M582.5 413v7M579 414.5h7M582.5 411v7M579 417.5h7M582.5 414v7M579 417.5h7M582.5 414v7M579 417.5h7M582.5 414v7M579 417.5h7M582.5 414v7M580 415.5h7M583.5 412v7M580 414.5h7M583.5 411v7M580 416.5h7M583.5 413v7M580 413.5h7M583.5 410v7M580 416.5h7M583.5 413v7M580 417.5h7M583.5 414v7M580 415.5h7M583.5 412v7M580 416.5h7M583.5 413v7M581 416.5h7M584.5 413v7M581 416.5h7M584.5 413v7M581 414.5h7M584.5 411v7M581 418.5h7M584.5 415v7M581 415.5h7M584.5 412v7M581 412.5h7M584.5 409v7M581 413.5h7M584.5 410v7M581 414.5h7M584.5 411v7M118 70.5h7M121.5 67v7M121 75.5h7M124.5 72v7M119 86.5h7M122.5 83v7M113 90.5h7M116.5 87v7M113 101.5h7M116.5 98v7M115 101.5h7M118.5 98v7M127 101.5h7M130.5 98v7M130 102.5h7M133.5 99v7M130 110.5h7M133.5 107v7M149 120.5h7M152.5 117v7M141 133.5h7M144.5 130v7M145 142.5h7M148.5 139v7M252 49.5h7M255.5 46v7M249 52.5h7M252.5 49v7M100 307.5h7M103.5 304v7M100 294.5h7M103.5 291v7M212 394.5h7M215.5 391v7M149 260.5h7M152.5 257v7M154 270.5h7M157.5 267v7M163 280.5h7M166.5 277v7M166 285.5h7M169.5 282v7M172 292.5h7M175.5 289v7M181 307.5h7M184.5 304v7M468 365.5h7M471.5 362v7M472 370.5h7M475.5 367v7M461 375.5h7M464.5 372v7M477 377.5h7M480.5 374v7M488 394.5h7M491.5 391v7M304 377.5h7M307.5 374v7M352 385.5h7M355.5 382v7M371 384.5h7M374.5 381v7M276 395.5h7M279.5 392v7M294 404.5h7M297.5 401v7M353 410.5h7M356.5 407v7M382 409.5h7M385.5 406v7M404 412.5h7M407.5 409v7" stroke="#f00" stroke-width="1" fill="none" shape-rendering="crispEdges"/>
<path d="M101.5 22.5H611.5V419.5H101.5Z" stroke="#000" stroke-width="1" fill="none" shape-rendering="crispEdges"/>
<text x="102.2" y="443" text-anchor="middle">0</text>
<text x="158.5" y="443" text-anchor="middle">200</text>
<text x="214.5" y="443" text-anchor="middle">400</text>
<text x="271.5" y="443" text-anchor="middle">600</text>
<text x="328.5" y="443" text-anchor="middle">800</text>
<text x="384.5" y="443" text-anchor="middle">1000</text>
<text x="441.5" y="443" text-anchor="middle">1200</text>
<text x="498.5" y="443" text-anchor="middle">1400</text>
<text x="554.5" y="443" text-anchor="middle">1600</text>
<text x="611.5" y="443" text-anchor="middle">1800</text>
<text x="86" y="423.5" text-anchor="end">0</text>
<text x="86" y="373.5" text-anchor="end">50</text>
<text x="86" y="324.5" text-anchor="end">100</text>
<text x="86" y="274.5" text-anchor="end">150</text>
<text x="86" y="224.5" text-anchor="end">200</text>
<text x="86" y="175.5" text-anchor="end">250</text>
<text x="86" y="125.5" text-anchor="end">300</text>
<text x="86" y="76.5" text-anchor="end">350</text>
<text x="86" y="26.5" text-anchor="end">400</text>
<text x="354.7" y="470.6" text-anchor="middle">Energie [keV]</text>
<text transform="translate(29 221) rotate(-90)" text-anchor="middle">Intenzita [Imp]</text>
</svg></body></html>
